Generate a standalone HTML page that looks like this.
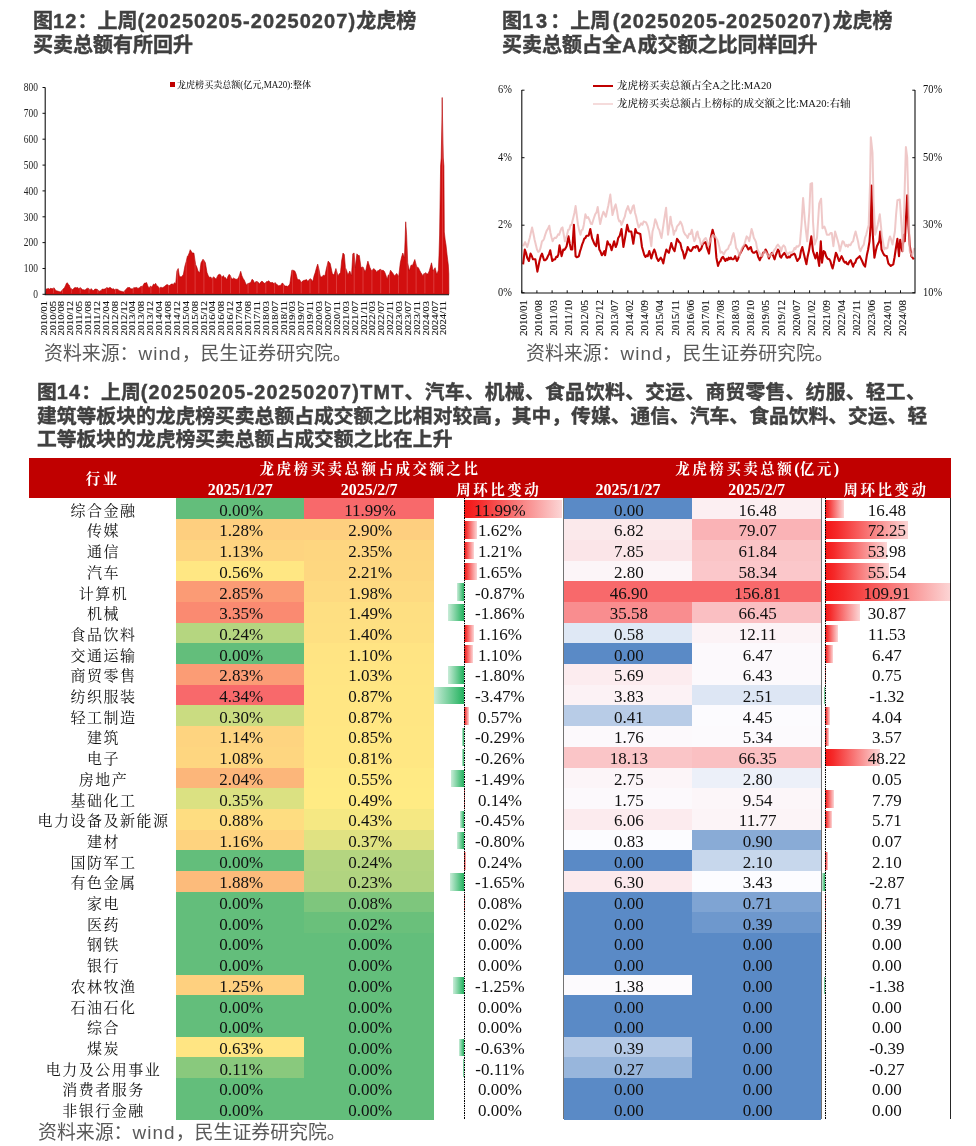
<!DOCTYPE html>
<html lang="zh"><head><meta charset="utf-8"><title>龙虎榜</title>
<style>
html,body{margin:0;padding:0;background:#fff;}
body{width:976px;height:1146px;position:relative;overflow:hidden;font-family:"Liberation Sans","Noto Sans CJK SC",sans-serif;}
.abs{position:absolute;white-space:nowrap;}
.ttl{font-weight:bold;color:#404040;font-size:20px;line-height:24px;-webkit-text-stroke:0.4px #404040;}
.ttl b{letter-spacing:1.1px;}
.src{color:#595959;font-size:18.9px;line-height:24px;}
.src b{font-weight:normal;letter-spacing:1.1px;}
.tb{font-family:"Liberation Serif","Noto Serif CJK SC",serif;}
.cell{position:absolute;text-align:center;font-size:17px;color:#111;white-space:nowrap;}
.hd{position:absolute;text-align:center;color:#fff;font-weight:bold;font-size:16px;white-space:nowrap;}
.hd i{font-style:normal;font-size:14.5px;letter-spacing:2.5px;}
svg text{font-family:"Liberation Serif","Noto Serif CJK SC",serif;}
</style></head><body>

<div class="abs ttl" style="left:33px;top:8.8px;">图<b>12</b>：上周<b>(20250205-20250207)</b>龙虎榜<br>买卖总额有所回升</div>
<div class="abs ttl" style="left:502px;top:8.8px;">图<b style="letter-spacing:3px">13</b>：上周<b style="margin-left:2.5px;margin-right:1px">(20250205-20250207)</b>龙虎榜<br>买卖总额占全<b>A</b>成交额之比同样回升</div>
<div class="abs src" style="left:44px;top:341.5px;">资料来源：<b>wind</b>，民生证券研究院。</div>
<div class="abs src" style="left:526px;top:341.5px;">资料来源：<b>wind</b>，民生证券研究院。</div>
<div class="abs ttl" id="t14" style="left:37px;top:381.3px;font-size:19.8px;line-height:23.6px;">图<b style="letter-spacing:1.25px">14</b>：上周<b style="letter-spacing:1.25px">(20250205-20250207)TMT</b><span style="letter-spacing:0.27px">、汽车、机械、食品饮料、交运、商贸零售、纺服、轻工、</span><br>建筑等板块的龙虎榜买卖总额占成交额之比相对较高，其中，传媒、通信、汽车、食品饮料、交运、轻<br>工等板块的龙虎榜买卖总额占成交额之比在上升</div>
<div class="abs src" style="left:38px;top:1120.6px;">资料来源：<b>wind</b>，民生证券研究院。</div>
<svg class="abs" style="left:0;top:0" width="976" height="345" viewBox="0 0 976 345">
<defs><clipPath id="ac"><path d="M45.7 294.3 L45.7 294.3 L46.2 289.0 L47.4 288.7 L48.6 288.5 L49.8 289.3 L50.9 288.0 L52.0 289.0 L53.1 288.2 L54.2 287.9 L55.3 290.0 L56.4 290.7 L60.5 292.0 L64.6 287.4 L65.5 285.5 L66.5 283.2 L67.4 282.8 L68.4 284.6 L69.3 285.2 L70.3 288.2 L71.5 288.8 L72.8 289.8 L74.0 288.1 L75.2 287.5 L76.5 287.8 L77.7 287.4 L78.9 288.8 L80.2 287.6 L81.4 288.5 L82.6 289.8 L83.8 289.7 L85.0 290.2 L86.3 288.8 L87.5 288.2 L88.8 288.5 L90.0 290.5 L91.2 288.6 L92.5 290.3 L93.7 290.6 L94.9 289.0 L95.9 289.1 L97.0 289.3 L98.0 289.9 L99.0 291.5 L100.0 290.5 L101.0 291.2 L102.1 289.0 L103.1 289.3 L104.1 289.1 L105.2 288.9 L106.2 287.8 L107.2 287.7 L108.4 288.2 L109.7 287.4 L110.9 287.8 L112.1 289.3 L113.3 288.5 L114.5 289.8 L115.8 289.1 L117.0 289.3 L118.1 289.4 L119.2 290.7 L120.3 291.0 L123.6 292.0 L127.7 287.4 L128.7 287.6 L129.8 287.5 L130.8 289.1 L131.8 288.7 L132.8 288.9 L133.9 287.4 L134.9 287.9 L135.9 287.4 L136.9 287.5 L137.9 288.4 L139.0 288.0 L140.0 287.4 L141.1 286.0 L142.2 287.0 L143.3 284.9 L144.4 283.1 L145.5 283.1 L146.6 282.5 L148.2 287.0 L149.3 287.7 L150.4 286.1 L151.5 287.0 L152.5 286.0 L153.6 284.0 L154.6 284.7 L155.6 283.3 L156.7 285.4 L157.8 286.2 L158.9 287.4 L159.9 288.4 L160.9 286.9 L162.0 287.9 L163.0 287.4 L164.1 286.8 L165.1 285.9 L166.2 284.9 L167.4 284.6 L168.6 285.4 L169.9 285.5 L171.1 284.1 L172.2 284.0 L173.4 284.4 L174.5 282.7 L175.7 283.8 L176.9 271.0 L178.2 268.5 L179.3 275.9 L180.6 276.8 L181.8 276.7 L183.4 274.3 L184.9 266.1 L186.2 261.5 L187.4 256.2 L188.3 255.3 L189.3 252.7 L190.2 249.7 L192.3 253.0 L193.9 253.0 L195.6 264.4 L196.8 267.1 L198.0 271.0 L199.7 273.0 L201.0 262.8 L203.0 259.2 L204.2 260.7 L205.4 262.8 L207.0 272.6 L208.2 275.5 L209.5 277.5 L210.8 277.0 L212.0 278.9 L213.6 276.7 L214.8 277.9 L216.1 279.2 L217.2 276.7 L218.2 274.9 L219.3 274.3 L220.6 274.8 L221.8 277.5 L223.4 275.6 L224.5 277.8 L225.6 277.6 L226.7 280.0 L227.9 276.5 L229.2 274.3 L230.3 275.5 L231.4 278.3 L232.5 278.9 L233.7 277.9 L234.9 278.9 L236.2 279.3 L237.4 279.2 L238.5 277.6 L239.6 274.8 L240.7 271.3 L241.9 275.8 L243.1 278.4 L244.2 280.0 L245.3 282.5 L246.4 284.9 L247.7 283.7 L248.9 283.3 L250.0 282.9 L251.0 281.8 L252.1 279.2 L253.3 280.3 L254.6 283.3 L255.8 281.6 L257.0 281.6 L258.2 282.2 L259.5 284.1 L260.8 281.9 L262.0 281.1 L263.2 282.2 L264.4 283.3 L265.5 283.0 L266.6 281.5 L267.7 281.6 L268.8 280.7 L269.9 282.2 L271.0 282.8 L272.0 282.4 L273.1 282.8 L274.1 283.8 L275.1 282.5 L276.2 284.1 L277.3 284.7 L278.4 285.7 L279.6 285.5 L280.9 285.2 L282.1 283.1 L283.3 283.8 L284.4 285.6 L285.5 286.1 L286.6 286.1 L287.7 286.4 L288.7 285.5 L289.8 284.1 L291.8 270.2 L292.8 270.2 L293.8 270.5 L294.8 271.0 L296.0 273.7 L297.2 278.4 L298.2 279.8 L299.2 279.5 L300.3 280.6 L301.3 282.8 L302.3 281.3 L303.4 280.5 L304.4 280.3 L305.4 280.0 L306.6 279.6 L307.9 281.6 L309.5 279.2 L310.6 278.7 L311.7 279.9 L312.8 281.6 L314.0 276.1 L315.2 272.6 L316.4 268.0 L317.7 264.1 L318.9 268.8 L320.2 275.9 L321.4 276.9 L322.5 276.2 L323.7 275.0 L324.9 275.9 L326.0 270.3 L327.1 265.6 L328.2 261.1 L330.2 263.6 L332.3 273.4 L333.9 275.1 L335.9 268.5 L338.0 275.9 L339.2 273.9 L340.5 272.6 L341.6 261.1 L343.0 253.0 L344.3 254.6 L345.4 267.7 L346.6 270.4 L347.9 275.1 L349.8 271.0 L351.5 275.9 L352.8 253.8 L354.1 253.0 L355.2 267.7 L356.9 253.8 L358.1 255.5 L359.3 255.4 L361.0 267.7 L363.0 266.9 L365.1 271.8 L366.0 269.5 L367.0 264.6 L367.9 261.1 L370.0 267.7 L371.6 271.0 L373.8 268.5 L374.7 269.8 L375.7 270.2 L376.6 272.6 L377.6 270.7 L378.6 270.5 L379.7 269.5 L380.7 269.3 L381.9 270.6 L383.1 270.2 L384.4 271.4 L385.6 274.3 L387.2 279.2 L388.3 275.0 L389.4 274.4 L390.5 270.2 L391.8 271.9 L393.0 273.4 L394.6 275.9 L396.7 273.4 L398.7 276.7 L400.3 262.8 L401.6 257.0 L402.8 253.0 L404.4 257.9 L405.1 239.8 L405.7 221.8 L406.6 234.9 L407.7 262.8 L409.3 271.0 L411.0 265.2 L412.6 265.2 L414.8 259.5 L416.7 266.9 L418.4 267.7 L419.6 270.3 L420.8 272.6 L423.0 275.9 L423.9 273.6 L424.8 273.8 L425.7 272.6 L426.9 274.2 L428.2 273.4 L429.3 270.8 L430.4 266.8 L431.5 262.8 L433.1 271.0 L435.1 267.7 L436.7 274.3 L437.4 273.0 L438.4 270.0 L439.0 255.0 L439.6 235.0 L440.6 166.0 L441.2 158.0 L441.9 122.0 L442.2 97.5 L442.6 122.0 L443.3 158.0 L443.9 166.0 L444.3 232.0 L445.2 240.0 L446.0 245.0 L447.2 256.0 L448.3 265.0 L448.8 274.0 L448.9 294.3 L448.9 294.3 Z"/></clipPath></defs>
<path d="M45.7 294.3 L45.7 294.3 L46.2 289.0 L47.4 288.7 L48.6 288.5 L49.8 289.3 L50.9 288.0 L52.0 289.0 L53.1 288.2 L54.2 287.9 L55.3 290.0 L56.4 290.7 L60.5 292.0 L64.6 287.4 L65.5 285.5 L66.5 283.2 L67.4 282.8 L68.4 284.6 L69.3 285.2 L70.3 288.2 L71.5 288.8 L72.8 289.8 L74.0 288.1 L75.2 287.5 L76.5 287.8 L77.7 287.4 L78.9 288.8 L80.2 287.6 L81.4 288.5 L82.6 289.8 L83.8 289.7 L85.0 290.2 L86.3 288.8 L87.5 288.2 L88.8 288.5 L90.0 290.5 L91.2 288.6 L92.5 290.3 L93.7 290.6 L94.9 289.0 L95.9 289.1 L97.0 289.3 L98.0 289.9 L99.0 291.5 L100.0 290.5 L101.0 291.2 L102.1 289.0 L103.1 289.3 L104.1 289.1 L105.2 288.9 L106.2 287.8 L107.2 287.7 L108.4 288.2 L109.7 287.4 L110.9 287.8 L112.1 289.3 L113.3 288.5 L114.5 289.8 L115.8 289.1 L117.0 289.3 L118.1 289.4 L119.2 290.7 L120.3 291.0 L123.6 292.0 L127.7 287.4 L128.7 287.6 L129.8 287.5 L130.8 289.1 L131.8 288.7 L132.8 288.9 L133.9 287.4 L134.9 287.9 L135.9 287.4 L136.9 287.5 L137.9 288.4 L139.0 288.0 L140.0 287.4 L141.1 286.0 L142.2 287.0 L143.3 284.9 L144.4 283.1 L145.5 283.1 L146.6 282.5 L148.2 287.0 L149.3 287.7 L150.4 286.1 L151.5 287.0 L152.5 286.0 L153.6 284.0 L154.6 284.7 L155.6 283.3 L156.7 285.4 L157.8 286.2 L158.9 287.4 L159.9 288.4 L160.9 286.9 L162.0 287.9 L163.0 287.4 L164.1 286.8 L165.1 285.9 L166.2 284.9 L167.4 284.6 L168.6 285.4 L169.9 285.5 L171.1 284.1 L172.2 284.0 L173.4 284.4 L174.5 282.7 L175.7 283.8 L176.9 271.0 L178.2 268.5 L179.3 275.9 L180.6 276.8 L181.8 276.7 L183.4 274.3 L184.9 266.1 L186.2 261.5 L187.4 256.2 L188.3 255.3 L189.3 252.7 L190.2 249.7 L192.3 253.0 L193.9 253.0 L195.6 264.4 L196.8 267.1 L198.0 271.0 L199.7 273.0 L201.0 262.8 L203.0 259.2 L204.2 260.7 L205.4 262.8 L207.0 272.6 L208.2 275.5 L209.5 277.5 L210.8 277.0 L212.0 278.9 L213.6 276.7 L214.8 277.9 L216.1 279.2 L217.2 276.7 L218.2 274.9 L219.3 274.3 L220.6 274.8 L221.8 277.5 L223.4 275.6 L224.5 277.8 L225.6 277.6 L226.7 280.0 L227.9 276.5 L229.2 274.3 L230.3 275.5 L231.4 278.3 L232.5 278.9 L233.7 277.9 L234.9 278.9 L236.2 279.3 L237.4 279.2 L238.5 277.6 L239.6 274.8 L240.7 271.3 L241.9 275.8 L243.1 278.4 L244.2 280.0 L245.3 282.5 L246.4 284.9 L247.7 283.7 L248.9 283.3 L250.0 282.9 L251.0 281.8 L252.1 279.2 L253.3 280.3 L254.6 283.3 L255.8 281.6 L257.0 281.6 L258.2 282.2 L259.5 284.1 L260.8 281.9 L262.0 281.1 L263.2 282.2 L264.4 283.3 L265.5 283.0 L266.6 281.5 L267.7 281.6 L268.8 280.7 L269.9 282.2 L271.0 282.8 L272.0 282.4 L273.1 282.8 L274.1 283.8 L275.1 282.5 L276.2 284.1 L277.3 284.7 L278.4 285.7 L279.6 285.5 L280.9 285.2 L282.1 283.1 L283.3 283.8 L284.4 285.6 L285.5 286.1 L286.6 286.1 L287.7 286.4 L288.7 285.5 L289.8 284.1 L291.8 270.2 L292.8 270.2 L293.8 270.5 L294.8 271.0 L296.0 273.7 L297.2 278.4 L298.2 279.8 L299.2 279.5 L300.3 280.6 L301.3 282.8 L302.3 281.3 L303.4 280.5 L304.4 280.3 L305.4 280.0 L306.6 279.6 L307.9 281.6 L309.5 279.2 L310.6 278.7 L311.7 279.9 L312.8 281.6 L314.0 276.1 L315.2 272.6 L316.4 268.0 L317.7 264.1 L318.9 268.8 L320.2 275.9 L321.4 276.9 L322.5 276.2 L323.7 275.0 L324.9 275.9 L326.0 270.3 L327.1 265.6 L328.2 261.1 L330.2 263.6 L332.3 273.4 L333.9 275.1 L335.9 268.5 L338.0 275.9 L339.2 273.9 L340.5 272.6 L341.6 261.1 L343.0 253.0 L344.3 254.6 L345.4 267.7 L346.6 270.4 L347.9 275.1 L349.8 271.0 L351.5 275.9 L352.8 253.8 L354.1 253.0 L355.2 267.7 L356.9 253.8 L358.1 255.5 L359.3 255.4 L361.0 267.7 L363.0 266.9 L365.1 271.8 L366.0 269.5 L367.0 264.6 L367.9 261.1 L370.0 267.7 L371.6 271.0 L373.8 268.5 L374.7 269.8 L375.7 270.2 L376.6 272.6 L377.6 270.7 L378.6 270.5 L379.7 269.5 L380.7 269.3 L381.9 270.6 L383.1 270.2 L384.4 271.4 L385.6 274.3 L387.2 279.2 L388.3 275.0 L389.4 274.4 L390.5 270.2 L391.8 271.9 L393.0 273.4 L394.6 275.9 L396.7 273.4 L398.7 276.7 L400.3 262.8 L401.6 257.0 L402.8 253.0 L404.4 257.9 L405.1 239.8 L405.7 221.8 L406.6 234.9 L407.7 262.8 L409.3 271.0 L411.0 265.2 L412.6 265.2 L414.8 259.5 L416.7 266.9 L418.4 267.7 L419.6 270.3 L420.8 272.6 L423.0 275.9 L423.9 273.6 L424.8 273.8 L425.7 272.6 L426.9 274.2 L428.2 273.4 L429.3 270.8 L430.4 266.8 L431.5 262.8 L433.1 271.0 L435.1 267.7 L436.7 274.3 L437.4 273.0 L438.4 270.0 L439.0 255.0 L439.6 235.0 L440.6 166.0 L441.2 158.0 L441.9 122.0 L442.2 97.5 L442.6 122.0 L443.3 158.0 L443.9 166.0 L444.3 232.0 L445.2 240.0 L446.0 245.0 L447.2 256.0 L448.3 265.0 L448.8 274.0 L448.9 294.3 L448.9 294.3 Z" fill="#d20f0f" stroke="#b00000" stroke-width="0.6" stroke-linejoin="round"/>
<line x1="53.6" y1="293.3" x2="53.6" y2="88" stroke="#ffb0b0" stroke-width="0.6" opacity="0.45" clip-path="url(#ac)"/>
<line x1="62.5" y1="293.3" x2="62.5" y2="88" stroke="#ffb0b0" stroke-width="0.6" opacity="0.45" clip-path="url(#ac)"/>
<line x1="71.3" y1="293.3" x2="71.3" y2="88" stroke="#ffb0b0" stroke-width="0.6" opacity="0.45" clip-path="url(#ac)"/>
<line x1="80.2" y1="293.3" x2="80.2" y2="88" stroke="#ffb0b0" stroke-width="0.6" opacity="0.45" clip-path="url(#ac)"/>
<line x1="89.0" y1="293.3" x2="89.0" y2="88" stroke="#ffb0b0" stroke-width="0.6" opacity="0.45" clip-path="url(#ac)"/>
<line x1="97.8" y1="293.3" x2="97.8" y2="88" stroke="#ffb0b0" stroke-width="0.6" opacity="0.45" clip-path="url(#ac)"/>
<line x1="106.7" y1="293.3" x2="106.7" y2="88" stroke="#ffb0b0" stroke-width="0.6" opacity="0.45" clip-path="url(#ac)"/>
<line x1="115.5" y1="293.3" x2="115.5" y2="88" stroke="#ffb0b0" stroke-width="0.6" opacity="0.45" clip-path="url(#ac)"/>
<line x1="124.4" y1="293.3" x2="124.4" y2="88" stroke="#ffb0b0" stroke-width="0.6" opacity="0.45" clip-path="url(#ac)"/>
<line x1="133.2" y1="293.3" x2="133.2" y2="88" stroke="#ffb0b0" stroke-width="0.6" opacity="0.45" clip-path="url(#ac)"/>
<line x1="142.0" y1="293.3" x2="142.0" y2="88" stroke="#ffb0b0" stroke-width="0.6" opacity="0.45" clip-path="url(#ac)"/>
<line x1="150.9" y1="293.3" x2="150.9" y2="88" stroke="#ffb0b0" stroke-width="0.6" opacity="0.45" clip-path="url(#ac)"/>
<line x1="159.7" y1="293.3" x2="159.7" y2="88" stroke="#ffb0b0" stroke-width="0.6" opacity="0.45" clip-path="url(#ac)"/>
<line x1="168.6" y1="293.3" x2="168.6" y2="88" stroke="#ffb0b0" stroke-width="0.6" opacity="0.45" clip-path="url(#ac)"/>
<line x1="177.4" y1="293.3" x2="177.4" y2="88" stroke="#ffb0b0" stroke-width="0.6" opacity="0.45" clip-path="url(#ac)"/>
<line x1="186.2" y1="293.3" x2="186.2" y2="88" stroke="#ffb0b0" stroke-width="0.6" opacity="0.45" clip-path="url(#ac)"/>
<line x1="195.1" y1="293.3" x2="195.1" y2="88" stroke="#ffb0b0" stroke-width="0.6" opacity="0.45" clip-path="url(#ac)"/>
<line x1="203.9" y1="293.3" x2="203.9" y2="88" stroke="#ffb0b0" stroke-width="0.6" opacity="0.45" clip-path="url(#ac)"/>
<line x1="212.8" y1="293.3" x2="212.8" y2="88" stroke="#ffb0b0" stroke-width="0.6" opacity="0.45" clip-path="url(#ac)"/>
<line x1="221.6" y1="293.3" x2="221.6" y2="88" stroke="#ffb0b0" stroke-width="0.6" opacity="0.45" clip-path="url(#ac)"/>
<line x1="230.4" y1="293.3" x2="230.4" y2="88" stroke="#ffb0b0" stroke-width="0.6" opacity="0.45" clip-path="url(#ac)"/>
<line x1="239.3" y1="293.3" x2="239.3" y2="88" stroke="#ffb0b0" stroke-width="0.6" opacity="0.45" clip-path="url(#ac)"/>
<line x1="248.1" y1="293.3" x2="248.1" y2="88" stroke="#ffb0b0" stroke-width="0.6" opacity="0.45" clip-path="url(#ac)"/>
<line x1="257.0" y1="293.3" x2="257.0" y2="88" stroke="#ffb0b0" stroke-width="0.6" opacity="0.45" clip-path="url(#ac)"/>
<line x1="265.8" y1="293.3" x2="265.8" y2="88" stroke="#ffb0b0" stroke-width="0.6" opacity="0.45" clip-path="url(#ac)"/>
<line x1="274.6" y1="293.3" x2="274.6" y2="88" stroke="#ffb0b0" stroke-width="0.6" opacity="0.45" clip-path="url(#ac)"/>
<line x1="283.5" y1="293.3" x2="283.5" y2="88" stroke="#ffb0b0" stroke-width="0.6" opacity="0.45" clip-path="url(#ac)"/>
<line x1="292.3" y1="293.3" x2="292.3" y2="88" stroke="#ffb0b0" stroke-width="0.6" opacity="0.45" clip-path="url(#ac)"/>
<line x1="301.2" y1="293.3" x2="301.2" y2="88" stroke="#ffb0b0" stroke-width="0.6" opacity="0.45" clip-path="url(#ac)"/>
<line x1="310.0" y1="293.3" x2="310.0" y2="88" stroke="#ffb0b0" stroke-width="0.6" opacity="0.45" clip-path="url(#ac)"/>
<line x1="318.8" y1="293.3" x2="318.8" y2="88" stroke="#ffb0b0" stroke-width="0.6" opacity="0.45" clip-path="url(#ac)"/>
<line x1="327.7" y1="293.3" x2="327.7" y2="88" stroke="#ffb0b0" stroke-width="0.6" opacity="0.45" clip-path="url(#ac)"/>
<line x1="336.5" y1="293.3" x2="336.5" y2="88" stroke="#ffb0b0" stroke-width="0.6" opacity="0.45" clip-path="url(#ac)"/>
<line x1="345.4" y1="293.3" x2="345.4" y2="88" stroke="#ffb0b0" stroke-width="0.6" opacity="0.45" clip-path="url(#ac)"/>
<line x1="354.2" y1="293.3" x2="354.2" y2="88" stroke="#ffb0b0" stroke-width="0.6" opacity="0.45" clip-path="url(#ac)"/>
<line x1="363.0" y1="293.3" x2="363.0" y2="88" stroke="#ffb0b0" stroke-width="0.6" opacity="0.45" clip-path="url(#ac)"/>
<line x1="371.9" y1="293.3" x2="371.9" y2="88" stroke="#ffb0b0" stroke-width="0.6" opacity="0.45" clip-path="url(#ac)"/>
<line x1="380.7" y1="293.3" x2="380.7" y2="88" stroke="#ffb0b0" stroke-width="0.6" opacity="0.45" clip-path="url(#ac)"/>
<line x1="389.6" y1="293.3" x2="389.6" y2="88" stroke="#ffb0b0" stroke-width="0.6" opacity="0.45" clip-path="url(#ac)"/>
<line x1="398.4" y1="293.3" x2="398.4" y2="88" stroke="#ffb0b0" stroke-width="0.6" opacity="0.45" clip-path="url(#ac)"/>
<line x1="407.2" y1="293.3" x2="407.2" y2="88" stroke="#ffb0b0" stroke-width="0.6" opacity="0.45" clip-path="url(#ac)"/>
<line x1="416.1" y1="293.3" x2="416.1" y2="88" stroke="#ffb0b0" stroke-width="0.6" opacity="0.45" clip-path="url(#ac)"/>
<line x1="424.9" y1="293.3" x2="424.9" y2="88" stroke="#ffb0b0" stroke-width="0.6" opacity="0.45" clip-path="url(#ac)"/>
<line x1="433.8" y1="293.3" x2="433.8" y2="88" stroke="#ffb0b0" stroke-width="0.6" opacity="0.45" clip-path="url(#ac)"/>
<line x1="442.6" y1="293.3" x2="442.6" y2="88" stroke="#ffb0b0" stroke-width="0.6" opacity="0.45" clip-path="url(#ac)"/>
<path d="M45.2 87.5V294.8H449" fill="none" stroke="#111" stroke-width="1.1"/>
<line x1="42.5" y1="87.5" x2="45.2" y2="87.5" stroke="#111" stroke-width="1"/>
<text x="38" y="91.4" font-size="11.8" text-anchor="end" fill="#222" transform="translate(38 0) scale(0.8 1) translate(-38 0)">800</text>
<line x1="42.5" y1="113.3" x2="45.2" y2="113.3" stroke="#111" stroke-width="1"/>
<text x="38" y="117.2" font-size="11.8" text-anchor="end" fill="#222" transform="translate(38 0) scale(0.8 1) translate(-38 0)">700</text>
<line x1="42.5" y1="139.2" x2="45.2" y2="139.2" stroke="#111" stroke-width="1"/>
<text x="38" y="143.1" font-size="11.8" text-anchor="end" fill="#222" transform="translate(38 0) scale(0.8 1) translate(-38 0)">600</text>
<line x1="42.5" y1="165.1" x2="45.2" y2="165.1" stroke="#111" stroke-width="1"/>
<text x="38" y="169.0" font-size="11.8" text-anchor="end" fill="#222" transform="translate(38 0) scale(0.8 1) translate(-38 0)">500</text>
<line x1="42.5" y1="190.9" x2="45.2" y2="190.9" stroke="#111" stroke-width="1"/>
<text x="38" y="194.8" font-size="11.8" text-anchor="end" fill="#222" transform="translate(38 0) scale(0.8 1) translate(-38 0)">400</text>
<line x1="42.5" y1="216.8" x2="45.2" y2="216.8" stroke="#111" stroke-width="1"/>
<text x="38" y="220.7" font-size="11.8" text-anchor="end" fill="#222" transform="translate(38 0) scale(0.8 1) translate(-38 0)">300</text>
<line x1="42.5" y1="242.6" x2="45.2" y2="242.6" stroke="#111" stroke-width="1"/>
<text x="38" y="246.5" font-size="11.8" text-anchor="end" fill="#222" transform="translate(38 0) scale(0.8 1) translate(-38 0)">200</text>
<line x1="42.5" y1="268.5" x2="45.2" y2="268.5" stroke="#111" stroke-width="1"/>
<text x="38" y="272.4" font-size="11.8" text-anchor="end" fill="#222" transform="translate(38 0) scale(0.8 1) translate(-38 0)">100</text>
<line x1="42.5" y1="294.3" x2="45.2" y2="294.3" stroke="#111" stroke-width="1"/>
<text x="38" y="298.2" font-size="11.8" text-anchor="end" fill="#222" transform="translate(38 0) scale(0.8 1) translate(-38 0)">0</text>
<text font-size="10.5" fill="#111" text-anchor="end" stroke="#111" stroke-width="0.15" transform="translate(43.6 301) rotate(-90) scale(1 0.85)" x="0" y="3.6">2010/01</text>
<text font-size="10.5" fill="#111" text-anchor="end" stroke="#111" stroke-width="0.15" transform="translate(52.5 301) rotate(-90) scale(1 0.85)" x="0" y="3.6">2010/05</text>
<text font-size="10.5" fill="#111" text-anchor="end" stroke="#111" stroke-width="0.15" transform="translate(61.4 301) rotate(-90) scale(1 0.85)" x="0" y="3.6">2010/08</text>
<text font-size="10.5" fill="#111" text-anchor="end" stroke="#111" stroke-width="0.15" transform="translate(70.3 301) rotate(-90) scale(1 0.85)" x="0" y="3.6">2010/12</text>
<text font-size="10.5" fill="#111" text-anchor="end" stroke="#111" stroke-width="0.15" transform="translate(79.1 301) rotate(-90) scale(1 0.85)" x="0" y="3.6">2011/05</text>
<text font-size="10.5" fill="#111" text-anchor="end" stroke="#111" stroke-width="0.15" transform="translate(88.0 301) rotate(-90) scale(1 0.85)" x="0" y="3.6">2011/08</text>
<text font-size="10.5" fill="#111" text-anchor="end" stroke="#111" stroke-width="0.15" transform="translate(96.9 301) rotate(-90) scale(1 0.85)" x="0" y="3.6">2011/12</text>
<text font-size="10.5" fill="#111" text-anchor="end" stroke="#111" stroke-width="0.15" transform="translate(105.8 301) rotate(-90) scale(1 0.85)" x="0" y="3.6">2012/04</text>
<text font-size="10.5" fill="#111" text-anchor="end" stroke="#111" stroke-width="0.15" transform="translate(114.7 301) rotate(-90) scale(1 0.85)" x="0" y="3.6">2012/08</text>
<text font-size="10.5" fill="#111" text-anchor="end" stroke="#111" stroke-width="0.15" transform="translate(123.6 301) rotate(-90) scale(1 0.85)" x="0" y="3.6">2012/12</text>
<text font-size="10.5" fill="#111" text-anchor="end" stroke="#111" stroke-width="0.15" transform="translate(132.4 301) rotate(-90) scale(1 0.85)" x="0" y="3.6">2013/04</text>
<text font-size="10.5" fill="#111" text-anchor="end" stroke="#111" stroke-width="0.15" transform="translate(141.3 301) rotate(-90) scale(1 0.85)" x="0" y="3.6">2013/08</text>
<text font-size="10.5" fill="#111" text-anchor="end" stroke="#111" stroke-width="0.15" transform="translate(150.2 301) rotate(-90) scale(1 0.85)" x="0" y="3.6">2013/12</text>
<text font-size="10.5" fill="#111" text-anchor="end" stroke="#111" stroke-width="0.15" transform="translate(159.1 301) rotate(-90) scale(1 0.85)" x="0" y="3.6">2014/04</text>
<text font-size="10.5" fill="#111" text-anchor="end" stroke="#111" stroke-width="0.15" transform="translate(168.0 301) rotate(-90) scale(1 0.85)" x="0" y="3.6">2014/08</text>
<text font-size="10.5" fill="#111" text-anchor="end" stroke="#111" stroke-width="0.15" transform="translate(176.9 301) rotate(-90) scale(1 0.85)" x="0" y="3.6">2014/12</text>
<text font-size="10.5" fill="#111" text-anchor="end" stroke="#111" stroke-width="0.15" transform="translate(185.8 301) rotate(-90) scale(1 0.85)" x="0" y="3.6">2015/04</text>
<text font-size="10.5" fill="#111" text-anchor="end" stroke="#111" stroke-width="0.15" transform="translate(194.6 301) rotate(-90) scale(1 0.85)" x="0" y="3.6">2015/08</text>
<text font-size="10.5" fill="#111" text-anchor="end" stroke="#111" stroke-width="0.15" transform="translate(203.5 301) rotate(-90) scale(1 0.85)" x="0" y="3.6">2015/12</text>
<text font-size="10.5" fill="#111" text-anchor="end" stroke="#111" stroke-width="0.15" transform="translate(212.4 301) rotate(-90) scale(1 0.85)" x="0" y="3.6">2016/04</text>
<text font-size="10.5" fill="#111" text-anchor="end" stroke="#111" stroke-width="0.15" transform="translate(221.3 301) rotate(-90) scale(1 0.85)" x="0" y="3.6">2016/08</text>
<text font-size="10.5" fill="#111" text-anchor="end" stroke="#111" stroke-width="0.15" transform="translate(230.2 301) rotate(-90) scale(1 0.85)" x="0" y="3.6">2016/12</text>
<text font-size="10.5" fill="#111" text-anchor="end" stroke="#111" stroke-width="0.15" transform="translate(239.1 301) rotate(-90) scale(1 0.85)" x="0" y="3.6">2017/04</text>
<text font-size="10.5" fill="#111" text-anchor="end" stroke="#111" stroke-width="0.15" transform="translate(248.0 301) rotate(-90) scale(1 0.85)" x="0" y="3.6">2017/08</text>
<text font-size="10.5" fill="#111" text-anchor="end" stroke="#111" stroke-width="0.15" transform="translate(256.8 301) rotate(-90) scale(1 0.85)" x="0" y="3.6">2017/11</text>
<text font-size="10.5" fill="#111" text-anchor="end" stroke="#111" stroke-width="0.15" transform="translate(265.7 301) rotate(-90) scale(1 0.85)" x="0" y="3.6">2018/03</text>
<text font-size="10.5" fill="#111" text-anchor="end" stroke="#111" stroke-width="0.15" transform="translate(274.6 301) rotate(-90) scale(1 0.85)" x="0" y="3.6">2018/07</text>
<text font-size="10.5" fill="#111" text-anchor="end" stroke="#111" stroke-width="0.15" transform="translate(283.5 301) rotate(-90) scale(1 0.85)" x="0" y="3.6">2018/11</text>
<text font-size="10.5" fill="#111" text-anchor="end" stroke="#111" stroke-width="0.15" transform="translate(292.4 301) rotate(-90) scale(1 0.85)" x="0" y="3.6">2019/03</text>
<text font-size="10.5" fill="#111" text-anchor="end" stroke="#111" stroke-width="0.15" transform="translate(301.3 301) rotate(-90) scale(1 0.85)" x="0" y="3.6">2019/07</text>
<text font-size="10.5" fill="#111" text-anchor="end" stroke="#111" stroke-width="0.15" transform="translate(310.2 301) rotate(-90) scale(1 0.85)" x="0" y="3.6">2019/11</text>
<text font-size="10.5" fill="#111" text-anchor="end" stroke="#111" stroke-width="0.15" transform="translate(319.0 301) rotate(-90) scale(1 0.85)" x="0" y="3.6">2020/03</text>
<text font-size="10.5" fill="#111" text-anchor="end" stroke="#111" stroke-width="0.15" transform="translate(327.9 301) rotate(-90) scale(1 0.85)" x="0" y="3.6">2020/07</text>
<text font-size="10.5" fill="#111" text-anchor="end" stroke="#111" stroke-width="0.15" transform="translate(336.8 301) rotate(-90) scale(1 0.85)" x="0" y="3.6">2020/11</text>
<text font-size="10.5" fill="#111" text-anchor="end" stroke="#111" stroke-width="0.15" transform="translate(345.7 301) rotate(-90) scale(1 0.85)" x="0" y="3.6">2021/03</text>
<text font-size="10.5" fill="#111" text-anchor="end" stroke="#111" stroke-width="0.15" transform="translate(354.6 301) rotate(-90) scale(1 0.85)" x="0" y="3.6">2021/07</text>
<text font-size="10.5" fill="#111" text-anchor="end" stroke="#111" stroke-width="0.15" transform="translate(363.5 301) rotate(-90) scale(1 0.85)" x="0" y="3.6">2021/11</text>
<text font-size="10.5" fill="#111" text-anchor="end" stroke="#111" stroke-width="0.15" transform="translate(372.3 301) rotate(-90) scale(1 0.85)" x="0" y="3.6">2022/03</text>
<text font-size="10.5" fill="#111" text-anchor="end" stroke="#111" stroke-width="0.15" transform="translate(381.2 301) rotate(-90) scale(1 0.85)" x="0" y="3.6">2022/07</text>
<text font-size="10.5" fill="#111" text-anchor="end" stroke="#111" stroke-width="0.15" transform="translate(390.1 301) rotate(-90) scale(1 0.85)" x="0" y="3.6">2022/11</text>
<text font-size="10.5" fill="#111" text-anchor="end" stroke="#111" stroke-width="0.15" transform="translate(399.0 301) rotate(-90) scale(1 0.85)" x="0" y="3.6">2023/03</text>
<text font-size="10.5" fill="#111" text-anchor="end" stroke="#111" stroke-width="0.15" transform="translate(407.9 301) rotate(-90) scale(1 0.85)" x="0" y="3.6">2023/07</text>
<text font-size="10.5" fill="#111" text-anchor="end" stroke="#111" stroke-width="0.15" transform="translate(416.8 301) rotate(-90) scale(1 0.85)" x="0" y="3.6">2023/11</text>
<text font-size="10.5" fill="#111" text-anchor="end" stroke="#111" stroke-width="0.15" transform="translate(425.7 301) rotate(-90) scale(1 0.85)" x="0" y="3.6">2024/03</text>
<text font-size="10.5" fill="#111" text-anchor="end" stroke="#111" stroke-width="0.15" transform="translate(434.5 301) rotate(-90) scale(1 0.85)" x="0" y="3.6">2024/07</text>
<text font-size="10.5" fill="#111" text-anchor="end" stroke="#111" stroke-width="0.15" transform="translate(443.4 301) rotate(-90) scale(1 0.85)" x="0" y="3.6">2024/11</text>
<rect x="170" y="82" width="5" height="5" fill="#c00000"/>
<text x="177" y="87.6" font-size="9.5" font-weight="500" fill="#111" textLength="134" lengthAdjust="spacingAndGlyphs"><tspan>龙虎榜买卖总额</tspan>(<tspan>亿元</tspan>,MA20):<tspan>整体</tspan></text>
<path d="M523.1 264.3 L524.8 249.5 L526.0 252.8 L527.2 257.7 L528.9 261.0 L530.5 253.6 L531.8 256.0 L533.0 259.3 L535.4 259.3 L537.4 271.6 L539.5 261.0 L540.8 256.2 L542.0 253.6 L544.1 260.2 L545.5 260.2 L546.9 258.5 L548.0 255.9 L549.1 253.9 L550.2 250.3 L552.3 261.0 L553.7 259.6 L555.1 259.3 L556.2 256.8 L557.3 257.0 L558.4 254.4 L559.5 245.4 L561.6 256.1 L563.3 249.5 L564.4 250.0 L565.5 248.4 L566.6 246.2 L568.5 236.4 L569.8 243.9 L571.0 249.5 L572.3 249.5 L573.9 224.9 L575.6 256.1 L576.7 257.1 L577.8 256.9 L578.9 256.1 L580.0 251.4 L581.0 248.5 L582.1 244.6 L583.2 241.9 L584.3 238.7 L585.4 238.0 L586.5 235.7 L587.6 235.7 L588.7 235.6 L590.3 229.0 L592.0 238.0 L594.4 243.8 L596.1 246.2 L597.7 234.8 L599.3 249.5 L600.5 251.6 L601.8 255.2 L603.0 253.8 L604.3 251.1 L605.1 255.2 L607.5 241.3 L608.8 244.4 L610.0 244.6 L611.6 250.3 L612.9 245.6 L614.1 241.3 L615.7 247.0 L617.0 243.9 L618.2 238.0 L619.8 235.6 L621.5 229.0 L623.4 247.0 L625.6 234.8 L627.2 224.9 L628.9 231.5 L631.3 231.5 L633.3 243.8 L635.4 229.0 L636.6 232.6 L637.9 233.1 L640.3 233.9 L642.0 247.0 L644.4 255.2 L645.5 257.0 L646.6 255.4 L647.7 256.1 L649.3 251.1 L651.3 258.5 L652.8 253.1 L654.3 249.5 L655.5 252.7 L656.7 257.7 L658.4 261.0 L660.8 257.7 L662.0 259.6 L663.3 263.4 L664.8 255.5 L666.4 249.5 L667.6 251.5 L668.9 252.8 L671.3 243.0 L672.4 247.0 L673.5 249.5 L674.6 251.1 L677.0 238.9 L678.1 240.2 L679.2 242.1 L680.3 243.0 L681.7 249.1 L683.0 252.0 L684.4 258.5 L685.5 255.2 L686.6 252.1 L687.7 247.0 L688.8 249.3 L689.9 250.5 L691.0 251.1 L692.1 249.7 L693.2 247.3 L694.3 247.0 L695.4 247.7 L696.4 245.9 L697.5 246.2 L699.2 251.1 L700.3 249.9 L701.4 248.3 L702.5 244.6 L703.6 243.4 L704.6 242.6 L705.7 242.1 L706.8 247.4 L707.9 250.5 L709.0 253.6 L710.7 238.0 L712.6 229.8 L714.8 238.0 L716.4 257.7 L718.0 265.9 L719.2 262.4 L720.5 261.0 L721.8 257.8 L723.0 256.9 L725.4 261.0 L726.5 258.8 L727.6 260.1 L728.7 257.7 L729.8 259.2 L730.9 257.6 L732.0 259.3 L733.1 259.3 L734.1 258.7 L735.2 256.1 L736.9 261.0 L738.0 259.0 L739.1 255.6 L740.2 253.6 L741.8 250.5 L743.4 247.0 L744.5 245.6 L745.6 244.9 L746.7 246.2 L748.4 249.5 L750.8 247.0 L752.0 251.4 L753.3 252.8 L754.4 252.7 L755.5 251.8 L756.6 251.1 L758.2 257.0 L759.8 260.2 L760.9 257.5 L762.0 256.5 L763.1 252.8 L764.4 252.2 L765.6 249.5 L766.7 251.6 L767.8 254.7 L768.9 258.5 L770.0 255.9 L771.0 253.9 L772.1 252.8 L773.4 256.3 L774.6 259.3 L775.7 255.3 L776.8 252.5 L777.9 249.5 L779.0 251.1 L780.0 256.3 L781.1 257.7 L782.2 255.6 L783.3 254.3 L784.4 252.8 L785.5 254.7 L786.6 257.4 L787.7 257.7 L788.8 256.6 L789.9 257.4 L791.0 255.2 L792.1 254.7 L793.2 254.2 L794.3 253.6 L794.9 254.4 L796.1 257.8 L797.4 261.0 L799.8 257.7 L801.0 250.8 L802.3 247.0 L803.5 252.2 L804.8 257.7 L806.4 264.3 L807.6 256.7 L808.9 251.1 L811.3 236.4 L813.0 251.1 L815.4 258.5 L817.0 252.8 L819.2 265.9 L820.8 241.3 L822.0 262.6 L823.6 251.1 L824.9 252.0 L826.1 256.1 L827.7 258.7 L829.3 259.3 L830.4 261.3 L831.5 265.3 L832.6 268.4 L833.7 263.9 L834.8 258.2 L835.9 252.8 L837.0 255.0 L838.1 258.3 L839.2 261.0 L841.6 256.1 L842.7 258.4 L843.8 261.3 L844.9 262.6 L846.0 261.9 L847.1 263.9 L848.2 264.3 L849.5 261.4 L850.7 260.2 L853.1 266.7 L854.2 263.5 L855.3 262.6 L856.4 259.3 L857.5 258.3 L858.6 257.4 L859.7 256.1 L862.1 261.0 L863.6 264.7 L865.1 266.7 L867.0 254.4 L868.2 249.2 L869.5 241.3 L870.7 224.9 L871.5 185.6 L872.8 234.8 L874.4 257.7 L875.6 251.8 L876.9 246.2 L879.3 241.3 L880.2 231.5 L881.5 249.5 L882.9 252.7 L884.3 255.2 L885.5 255.7 L886.7 256.1 L888.4 263.4 L890.8 265.9 L892.0 265.1 L893.3 264.3 L894.5 257.5 L895.7 249.5 L897.4 238.9 L899.0 256.1 L900.2 239.7 L902.3 251.1 L903.9 234.8 L904.8 241.3 L906.4 210.2 L907.2 195.4 L908.4 224.9 L909.7 244.6 L911.3 256.1 L912.5 257.5 L913.8 259.3" fill="none" stroke="#c00000" stroke-width="2.1" stroke-linejoin="round"/>
<path d="M523.1 246.2 L525.1 242.1 L527.2 247.0 L528.5 242.6 L529.7 238.0 L532.1 227.4 L533.4 233.5 L534.6 239.7 L537.0 249.5 L538.2 251.9 L539.5 251.1 L540.8 246.9 L542.0 241.3 L543.1 240.5 L544.1 238.6 L545.2 234.8 L546.6 230.9 L547.9 228.9 L549.3 225.7 L550.4 232.5 L551.5 237.3 L552.6 241.3 L553.7 238.9 L554.8 237.7 L555.9 238.0 L557.0 236.7 L558.1 234.3 L559.2 234.8 L560.3 231.4 L561.4 228.3 L562.5 227.4 L564.9 241.3 L566.0 238.1 L567.1 234.7 L568.2 229.8 L569.3 229.6 L570.4 225.3 L571.5 224.9 L573.1 218.4 L574.4 213.0 L575.6 206.1 L578.0 224.9 L579.2 230.4 L580.5 234.8 L581.6 230.2 L582.7 229.6 L583.8 224.9 L585.4 214.3 L586.8 217.9 L588.1 217.1 L589.5 220.0 L590.8 223.7 L592.0 224.1 L593.1 220.5 L594.1 217.5 L595.2 214.3 L596.5 212.4 L597.7 206.9 L599.0 216.7 L600.2 224.1 L601.8 216.7 L603.4 211.8 L604.6 214.0 L605.9 216.7 L607.1 211.0 L608.4 205.2 L610.3 194.6 L612.5 215.1 L613.6 211.0 L614.6 206.9 L615.7 204.4 L617.0 210.7 L618.2 218.4 L619.3 221.4 L620.4 221.0 L621.5 224.9 L622.6 222.4 L623.7 219.2 L624.8 216.7 L625.9 211.4 L626.9 209.0 L628.0 206.1 L629.2 210.2 L630.5 213.4 L631.6 210.7 L632.7 206.4 L633.8 205.2 L635.0 212.7 L636.2 216.7 L637.5 223.1 L638.7 227.4 L641.1 223.3 L642.4 224.8 L643.6 221.5 L644.9 221.9 L646.1 222.5 L647.7 226.1 L649.3 233.1 L651.3 246.2 L652.5 231.5 L653.9 226.4 L655.2 219.2 L656.7 222.9 L658.2 228.2 L659.3 230.1 L660.4 234.5 L661.5 238.0 L663.9 221.6 L666.1 207.7 L668.0 234.8 L669.2 227.2 L670.5 216.7 L671.6 223.9 L672.7 227.9 L673.8 234.8 L674.9 230.8 L675.9 230.8 L677.0 226.6 L678.1 225.2 L679.2 224.0 L680.3 221.6 L681.4 223.4 L682.5 226.6 L683.6 231.5 L685.0 234.3 L686.3 235.6 L687.7 238.0 L689.1 233.7 L690.4 234.1 L691.8 229.8 L693.0 236.0 L694.3 241.3 L695.4 239.1 L696.4 233.3 L697.5 231.5 L698.6 237.1 L699.7 238.7 L700.8 244.6 L702.0 244.3 L703.2 241.1 L704.5 239.1 L705.7 238.0 L706.8 240.4 L707.9 243.9 L709.0 244.6 L710.4 240.5 L711.7 236.7 L713.1 234.8 L714.5 236.5 L715.8 237.1 L717.2 239.7 L718.3 242.7 L719.4 247.2 L720.5 252.8 L721.6 251.7 L722.7 252.8 L723.8 254.4 L724.9 252.1 L725.9 250.4 L727.0 249.5 L728.1 248.8 L729.2 245.5 L730.3 244.6 L731.4 240.8 L732.5 235.8 L733.6 233.1 L734.9 239.9 L736.1 247.9 L737.7 250.3 L739.3 256.1 L740.7 251.9 L742.0 247.8 L743.4 246.2 L744.5 243.8 L745.6 239.9 L746.7 236.4 L748.0 237.7 L749.2 241.3 L751.6 229.0 L752.7 232.5 L753.8 237.7 L754.9 239.7 L756.0 242.1 L757.1 248.4 L758.2 251.1 L759.3 252.5 L760.4 254.4 L761.5 256.1 L762.6 255.6 L763.7 252.4 L764.8 251.1 L766.0 252.4 L767.2 254.3 L768.5 256.6 L769.7 256.1 L770.9 253.9 L772.2 254.0 L773.4 251.9 L774.6 249.5 L775.7 248.4 L776.8 245.9 L777.9 244.6 L779.0 246.2 L780.0 247.3 L781.1 251.1 L782.4 246.9 L783.6 245.4 L785.0 246.9 L786.3 252.3 L787.7 254.4 L788.8 253.1 L789.9 252.3 L791.0 253.1 L793.3 251.1 L794.4 248.0 L795.5 249.1 L796.6 246.2 L798.2 246.7 L799.8 244.6 L801.5 224.9 L803.1 197.9 L804.8 220.0 L806.0 231.3 L807.2 241.3 L809.3 211.8 L810.5 183.9 L812.1 183.1 L813.0 221.6 L814.6 244.6 L817.0 238.0 L819.2 203.6 L821.1 198.7 L822.5 228.2 L824.4 226.6 L825.6 229.9 L826.9 234.8 L829.3 234.8 L830.5 233.0 L831.8 233.1 L833.4 246.2 L835.1 231.5 L837.5 239.7 L838.8 244.7 L840.0 251.1 L841.2 246.1 L842.5 241.3 L843.6 241.7 L844.6 244.4 L845.7 246.2 L846.8 244.8 L847.9 246.8 L849.0 244.6 L850.4 245.2 L851.7 242.6 L853.1 241.3 L854.4 235.5 L855.6 231.5 L858.0 241.3 L859.2 247.9 L860.5 251.1 L861.6 248.2 L862.7 246.3 L863.8 244.6 L865.0 237.9 L866.2 234.8 L867.5 229.4 L868.7 224.9 L870.0 185.6 L870.8 137.2 L872.5 152.8 L873.6 202.0 L875.2 234.8 L876.5 229.8 L877.7 224.9 L879.8 214.3 L881.8 234.8 L883.0 242.2 L884.3 249.5 L885.4 247.9 L886.4 248.5 L887.5 247.9 L888.8 240.4 L890.0 236.4 L891.2 239.7 L892.5 244.6 L894.9 231.5 L896.1 214.4 L897.4 200.3 L899.8 199.5 L901.5 224.9 L903.1 251.1 L904.8 185.6 L905.9 147.0 L907.2 157.7 L908.4 202.0 L909.7 251.1 L912.1 256.1 L914.3 247.9" fill="none" stroke="#eab6b6" stroke-opacity="0.75" stroke-width="2" stroke-linejoin="round"/>
<path d="M521.8 90V293H915V90" fill="none" stroke="#111" stroke-width="1.1"/>
<line x1="521.8" y1="90.2" x2="524.5" y2="90.2" stroke="#111" stroke-width="1"/>
<line x1="912.3" y1="90.2" x2="915" y2="90.2" stroke="#111" stroke-width="1"/>
<text x="512" y="93.4" font-size="11.6" text-anchor="end" fill="#111" transform="translate(512 0) scale(0.9 1) translate(-512 0)">6%</text>
<text x="923" y="93.4" font-size="11.6" fill="#111" transform="translate(923 0) scale(0.9 1) translate(-923 0)">70%</text>
<line x1="521.8" y1="157.7" x2="524.5" y2="157.7" stroke="#111" stroke-width="1"/>
<line x1="912.3" y1="157.7" x2="915" y2="157.7" stroke="#111" stroke-width="1"/>
<text x="512" y="160.9" font-size="11.6" text-anchor="end" fill="#111" transform="translate(512 0) scale(0.9 1) translate(-512 0)">4%</text>
<text x="923" y="160.9" font-size="11.6" fill="#111" transform="translate(923 0) scale(0.9 1) translate(-923 0)">50%</text>
<line x1="521.8" y1="225.2" x2="524.5" y2="225.2" stroke="#111" stroke-width="1"/>
<line x1="912.3" y1="225.2" x2="915" y2="225.2" stroke="#111" stroke-width="1"/>
<text x="512" y="228.4" font-size="11.6" text-anchor="end" fill="#111" transform="translate(512 0) scale(0.9 1) translate(-512 0)">2%</text>
<text x="923" y="228.4" font-size="11.6" fill="#111" transform="translate(923 0) scale(0.9 1) translate(-923 0)">30%</text>
<line x1="521.8" y1="292.7" x2="524.5" y2="292.7" stroke="#111" stroke-width="1"/>
<line x1="912.3" y1="292.7" x2="915" y2="292.7" stroke="#111" stroke-width="1"/>
<text x="512" y="295.9" font-size="11.6" text-anchor="end" fill="#111" transform="translate(512 0) scale(0.9 1) translate(-512 0)">0%</text>
<text x="923" y="295.9" font-size="11.6" fill="#111" transform="translate(923 0) scale(0.9 1) translate(-923 0)">10%</text>
<line x1="521.8" y1="290.3" x2="521.8" y2="293" stroke="#111" stroke-width="1"/>
<text font-size="11" fill="#111" text-anchor="end" stroke="#111" stroke-width="0.15" transform="translate(523.8 300) rotate(-90) scale(1 0.9)" x="0" y="3.6">2010/01</text>
<line x1="536.9" y1="290.3" x2="536.9" y2="293" stroke="#111" stroke-width="1"/>
<text font-size="11" fill="#111" text-anchor="end" stroke="#111" stroke-width="0.15" transform="translate(538.9 300) rotate(-90) scale(1 0.9)" x="0" y="3.6">2010/08</text>
<line x1="552.1" y1="290.3" x2="552.1" y2="293" stroke="#111" stroke-width="1"/>
<text font-size="11" fill="#111" text-anchor="end" stroke="#111" stroke-width="0.15" transform="translate(554.1 300) rotate(-90) scale(1 0.9)" x="0" y="3.6">2011/03</text>
<line x1="567.2" y1="290.3" x2="567.2" y2="293" stroke="#111" stroke-width="1"/>
<text font-size="11" fill="#111" text-anchor="end" stroke="#111" stroke-width="0.15" transform="translate(569.2 300) rotate(-90) scale(1 0.9)" x="0" y="3.6">2011/10</text>
<line x1="582.4" y1="290.3" x2="582.4" y2="293" stroke="#111" stroke-width="1"/>
<text font-size="11" fill="#111" text-anchor="end" stroke="#111" stroke-width="0.15" transform="translate(584.4 300) rotate(-90) scale(1 0.9)" x="0" y="3.6">2012/05</text>
<line x1="597.5" y1="290.3" x2="597.5" y2="293" stroke="#111" stroke-width="1"/>
<text font-size="11" fill="#111" text-anchor="end" stroke="#111" stroke-width="0.15" transform="translate(599.5 300) rotate(-90) scale(1 0.9)" x="0" y="3.6">2012/12</text>
<line x1="612.7" y1="290.3" x2="612.7" y2="293" stroke="#111" stroke-width="1"/>
<text font-size="11" fill="#111" text-anchor="end" stroke="#111" stroke-width="0.15" transform="translate(614.7 300) rotate(-90) scale(1 0.9)" x="0" y="3.6">2013/07</text>
<line x1="627.8" y1="290.3" x2="627.8" y2="293" stroke="#111" stroke-width="1"/>
<text font-size="11" fill="#111" text-anchor="end" stroke="#111" stroke-width="0.15" transform="translate(629.8 300) rotate(-90) scale(1 0.9)" x="0" y="3.6">2014/02</text>
<line x1="643.0" y1="290.3" x2="643.0" y2="293" stroke="#111" stroke-width="1"/>
<text font-size="11" fill="#111" text-anchor="end" stroke="#111" stroke-width="0.15" transform="translate(645.0 300) rotate(-90) scale(1 0.9)" x="0" y="3.6">2014/09</text>
<line x1="658.1" y1="290.3" x2="658.1" y2="293" stroke="#111" stroke-width="1"/>
<text font-size="11" fill="#111" text-anchor="end" stroke="#111" stroke-width="0.15" transform="translate(660.1 300) rotate(-90) scale(1 0.9)" x="0" y="3.6">2015/04</text>
<line x1="673.3" y1="290.3" x2="673.3" y2="293" stroke="#111" stroke-width="1"/>
<text font-size="11" fill="#111" text-anchor="end" stroke="#111" stroke-width="0.15" transform="translate(675.3 300) rotate(-90) scale(1 0.9)" x="0" y="3.6">2015/11</text>
<line x1="688.4" y1="290.3" x2="688.4" y2="293" stroke="#111" stroke-width="1"/>
<text font-size="11" fill="#111" text-anchor="end" stroke="#111" stroke-width="0.15" transform="translate(690.4 300) rotate(-90) scale(1 0.9)" x="0" y="3.6">2016/06</text>
<line x1="703.6" y1="290.3" x2="703.6" y2="293" stroke="#111" stroke-width="1"/>
<text font-size="11" fill="#111" text-anchor="end" stroke="#111" stroke-width="0.15" transform="translate(705.6 300) rotate(-90) scale(1 0.9)" x="0" y="3.6">2017/01</text>
<line x1="718.8" y1="290.3" x2="718.8" y2="293" stroke="#111" stroke-width="1"/>
<text font-size="11" fill="#111" text-anchor="end" stroke="#111" stroke-width="0.15" transform="translate(720.8 300) rotate(-90) scale(1 0.9)" x="0" y="3.6">2017/08</text>
<line x1="733.9" y1="290.3" x2="733.9" y2="293" stroke="#111" stroke-width="1"/>
<text font-size="11" fill="#111" text-anchor="end" stroke="#111" stroke-width="0.15" transform="translate(735.9 300) rotate(-90) scale(1 0.9)" x="0" y="3.6">2018/03</text>
<line x1="749.0" y1="290.3" x2="749.0" y2="293" stroke="#111" stroke-width="1"/>
<text font-size="11" fill="#111" text-anchor="end" stroke="#111" stroke-width="0.15" transform="translate(751.0 300) rotate(-90) scale(1 0.9)" x="0" y="3.6">2018/10</text>
<line x1="764.2" y1="290.3" x2="764.2" y2="293" stroke="#111" stroke-width="1"/>
<text font-size="11" fill="#111" text-anchor="end" stroke="#111" stroke-width="0.15" transform="translate(766.2 300) rotate(-90) scale(1 0.9)" x="0" y="3.6">2019/05</text>
<line x1="779.3" y1="290.3" x2="779.3" y2="293" stroke="#111" stroke-width="1"/>
<text font-size="11" fill="#111" text-anchor="end" stroke="#111" stroke-width="0.15" transform="translate(781.3 300) rotate(-90) scale(1 0.9)" x="0" y="3.6">2019/12</text>
<line x1="794.5" y1="290.3" x2="794.5" y2="293" stroke="#111" stroke-width="1"/>
<text font-size="11" fill="#111" text-anchor="end" stroke="#111" stroke-width="0.15" transform="translate(796.5 300) rotate(-90) scale(1 0.9)" x="0" y="3.6">2020/07</text>
<line x1="809.6" y1="290.3" x2="809.6" y2="293" stroke="#111" stroke-width="1"/>
<text font-size="11" fill="#111" text-anchor="end" stroke="#111" stroke-width="0.15" transform="translate(811.6 300) rotate(-90) scale(1 0.9)" x="0" y="3.6">2021/02</text>
<line x1="824.8" y1="290.3" x2="824.8" y2="293" stroke="#111" stroke-width="1"/>
<text font-size="11" fill="#111" text-anchor="end" stroke="#111" stroke-width="0.15" transform="translate(826.8 300) rotate(-90) scale(1 0.9)" x="0" y="3.6">2021/09</text>
<line x1="840.0" y1="290.3" x2="840.0" y2="293" stroke="#111" stroke-width="1"/>
<text font-size="11" fill="#111" text-anchor="end" stroke="#111" stroke-width="0.15" transform="translate(842.0 300) rotate(-90) scale(1 0.9)" x="0" y="3.6">2022/04</text>
<line x1="855.1" y1="290.3" x2="855.1" y2="293" stroke="#111" stroke-width="1"/>
<text font-size="11" fill="#111" text-anchor="end" stroke="#111" stroke-width="0.15" transform="translate(857.1 300) rotate(-90) scale(1 0.9)" x="0" y="3.6">2022/11</text>
<line x1="870.2" y1="290.3" x2="870.2" y2="293" stroke="#111" stroke-width="1"/>
<text font-size="11" fill="#111" text-anchor="end" stroke="#111" stroke-width="0.15" transform="translate(872.2 300) rotate(-90) scale(1 0.9)" x="0" y="3.6">2023/06</text>
<line x1="885.4" y1="290.3" x2="885.4" y2="293" stroke="#111" stroke-width="1"/>
<text font-size="11" fill="#111" text-anchor="end" stroke="#111" stroke-width="0.15" transform="translate(887.4 300) rotate(-90) scale(1 0.9)" x="0" y="3.6">2024/01</text>
<line x1="900.5" y1="290.3" x2="900.5" y2="293" stroke="#111" stroke-width="1"/>
<text font-size="11" fill="#111" text-anchor="end" stroke="#111" stroke-width="0.15" transform="translate(902.5 300) rotate(-90) scale(1 0.9)" x="0" y="3.6">2024/08</text>
<line x1="593" y1="86" x2="613" y2="86" stroke="#c00000" stroke-width="2"/>
<line x1="593" y1="104" x2="613" y2="104" stroke="#f3d3d3" stroke-width="1.6"/>
<text x="617" y="88.9" font-size="10" font-weight="500" fill="#111" textLength="154.5" lengthAdjust="spacingAndGlyphs"><tspan>龙虎榜买卖总额占全</tspan>A<tspan>之比</tspan>:MA20</text>
<text x="617" y="107.2" font-size="10" font-weight="500" fill="#111" textLength="233.5" lengthAdjust="spacingAndGlyphs"><tspan>龙虎榜买卖总额占上榜标的成交额之比</tspan>:MA20:<tspan>右轴</tspan></text>
</svg>
<div class="tb">
<div class="abs" style="left:29.3px;top:458.1px;width:921.4px;height:40.3px;background:#c00000;"></div>
<div class="hd" style="left:29.3px;width:146.8px;top:469.0px;line-height:20px;"><i>行业</i></div>
<div class="hd" style="left:176.1px;width:387.6px;top:459.0px;line-height:20px;"><i>龙虎榜买卖总额占成交额之比</i></div>
<div class="hd" style="left:563.7px;width:387.0px;top:459.0px;line-height:20px;"><i>龙虎榜买卖总额<span style="font-size:16px;letter-spacing:0">(</span>亿元<span style="font-size:16px;letter-spacing:0">)</span></i></div>
<div class="hd" style="left:176.1px;width:128.2px;top:479.8px;line-height:20px;">2025/1/27</div>
<div class="hd" style="left:304.3px;width:129.7px;top:479.8px;line-height:20px;">2025/2/7</div>
<div class="hd" style="left:434.0px;width:129.7px;top:479.8px;line-height:20px;"><i>周环比变动</i></div>
<div class="hd" style="left:563.7px;width:128.5px;top:479.8px;line-height:20px;">2025/1/27</div>
<div class="hd" style="left:692.2px;width:128.9px;top:479.8px;line-height:20px;">2025/2/7</div>
<div class="hd" style="left:821.1px;width:129.6px;top:479.8px;line-height:20px;"><i>周环比变动</i></div>
<div class="abs" style="left:176.1px;top:498.40px;width:128.2px;height:21.00px;background:#63be7b;"></div>
<div class="abs" style="left:304.3px;top:498.40px;width:129.7px;height:21.00px;background:#f8696b;"></div>
<div class="abs" style="left:563.7px;top:498.40px;width:128.5px;height:21.00px;background:#5a8ac6;"></div>
<div class="abs" style="left:692.2px;top:498.40px;width:128.9px;height:21.00px;background:#fceff2;"></div>
<div class="abs" style="left:464.0px;top:500.40px;width:97.7px;height:17.6px;background:linear-gradient(90deg,#f41414,#f52a2a 15%,#fcd6d6);"></div>
<div class="abs" style="left:825.3px;top:500.40px;width:18.8px;height:17.6px;background:linear-gradient(90deg,#f41414,#f52a2a 15%,#fcd6d6);"></div>
<div class="cell" style="left:29.3px;width:146.8px;top:500.70px;line-height:20.7px;font-size:15px;letter-spacing:1.5px;text-indent:1.5px;">综合金融</div>
<div class="cell" style="left:177.1px;width:128.2px;top:500.70px;line-height:20.7px;">0.00%</div>
<div class="cell" style="left:305.3px;width:129.7px;top:500.70px;line-height:20.7px;">11.99%</div>
<div class="cell" style="left:435.0px;width:129.7px;top:500.70px;line-height:20.7px;">11.99%</div>
<div class="cell" style="left:564.7px;width:128.5px;top:500.70px;line-height:20.7px;">0.00</div>
<div class="cell" style="left:693.2px;width:128.9px;top:500.70px;line-height:20.7px;">16.48</div>
<div class="cell" style="left:822.1px;width:129.6px;top:500.70px;line-height:20.7px;">16.48</div>
<div class="abs" style="left:176.1px;top:519.10px;width:128.2px;height:21.00px;background:#fecf7f;"></div>
<div class="abs" style="left:304.3px;top:519.10px;width:129.7px;height:21.00px;background:#fecf7f;"></div>
<div class="abs" style="left:563.7px;top:519.10px;width:128.5px;height:21.00px;background:#fbe9eb;"></div>
<div class="abs" style="left:692.2px;top:519.10px;width:128.9px;height:21.00px;background:#fab3b6;"></div>
<div class="abs" style="left:464.0px;top:521.10px;width:13.2px;height:17.6px;background:linear-gradient(90deg,#f41414,#f52a2a 15%,#fcd6d6);"></div>
<div class="abs" style="left:825.3px;top:521.10px;width:82.4px;height:17.6px;background:linear-gradient(90deg,#f41414,#f52a2a 15%,#fcd6d6);"></div>
<div class="cell" style="left:29.3px;width:146.8px;top:521.40px;line-height:20.7px;font-size:15px;letter-spacing:1.5px;text-indent:1.5px;">传媒</div>
<div class="cell" style="left:177.1px;width:128.2px;top:521.40px;line-height:20.7px;">1.28%</div>
<div class="cell" style="left:305.3px;width:129.7px;top:521.40px;line-height:20.7px;">2.90%</div>
<div class="cell" style="left:435.0px;width:129.7px;top:521.40px;line-height:20.7px;">1.62%</div>
<div class="cell" style="left:564.7px;width:128.5px;top:521.40px;line-height:20.7px;">6.82</div>
<div class="cell" style="left:693.2px;width:128.9px;top:521.40px;line-height:20.7px;">79.07</div>
<div class="cell" style="left:822.1px;width:129.6px;top:521.40px;line-height:20.7px;">72.25</div>
<div class="abs" style="left:176.1px;top:539.80px;width:128.2px;height:21.00px;background:#fed480;"></div>
<div class="abs" style="left:304.3px;top:539.80px;width:129.7px;height:21.00px;background:#fed680;"></div>
<div class="abs" style="left:563.7px;top:539.80px;width:128.5px;height:21.00px;background:#fbe5e8;"></div>
<div class="abs" style="left:692.2px;top:539.80px;width:128.9px;height:21.00px;background:#fac4c6;"></div>
<div class="abs" style="left:464.0px;top:541.80px;width:9.9px;height:17.6px;background:linear-gradient(90deg,#f41414,#f52a2a 15%,#fcd6d6);"></div>
<div class="abs" style="left:825.3px;top:541.80px;width:61.5px;height:17.6px;background:linear-gradient(90deg,#f41414,#f52a2a 15%,#fcd6d6);"></div>
<div class="cell" style="left:29.3px;width:146.8px;top:542.10px;line-height:20.7px;font-size:15px;letter-spacing:1.5px;text-indent:1.5px;">通信</div>
<div class="cell" style="left:177.1px;width:128.2px;top:542.10px;line-height:20.7px;">1.13%</div>
<div class="cell" style="left:305.3px;width:129.7px;top:542.10px;line-height:20.7px;">2.35%</div>
<div class="cell" style="left:435.0px;width:129.7px;top:542.10px;line-height:20.7px;">1.21%</div>
<div class="cell" style="left:564.7px;width:128.5px;top:542.10px;line-height:20.7px;">7.85</div>
<div class="cell" style="left:693.2px;width:128.9px;top:542.10px;line-height:20.7px;">61.84</div>
<div class="cell" style="left:822.1px;width:129.6px;top:542.10px;line-height:20.7px;">53.98</div>
<div class="abs" style="left:176.1px;top:560.50px;width:128.2px;height:21.00px;background:#ffe783;"></div>
<div class="abs" style="left:304.3px;top:560.50px;width:129.7px;height:21.00px;background:#fed780;"></div>
<div class="abs" style="left:563.7px;top:560.50px;width:128.5px;height:21.00px;background:#fcf5f8;"></div>
<div class="abs" style="left:692.2px;top:560.50px;width:128.9px;height:21.00px;background:#fbc7ca;"></div>
<div class="abs" style="left:464.0px;top:562.50px;width:13.4px;height:17.6px;background:linear-gradient(90deg,#f41414,#f52a2a 15%,#fcd6d6);"></div>
<div class="abs" style="left:825.3px;top:562.50px;width:63.3px;height:17.6px;background:linear-gradient(90deg,#f41414,#f52a2a 15%,#fcd6d6);"></div>
<div class="cell" style="left:29.3px;width:146.8px;top:562.80px;line-height:20.7px;font-size:15px;letter-spacing:1.5px;text-indent:1.5px;">汽车</div>
<div class="cell" style="left:177.1px;width:128.2px;top:562.80px;line-height:20.7px;">0.56%</div>
<div class="cell" style="left:305.3px;width:129.7px;top:562.80px;line-height:20.7px;">2.21%</div>
<div class="cell" style="left:435.0px;width:129.7px;top:562.80px;line-height:20.7px;">1.65%</div>
<div class="cell" style="left:564.7px;width:128.5px;top:562.80px;line-height:20.7px;">2.80</div>
<div class="cell" style="left:693.2px;width:128.9px;top:562.80px;line-height:20.7px;">58.34</div>
<div class="cell" style="left:822.1px;width:129.6px;top:562.80px;line-height:20.7px;">55.54</div>
<div class="abs" style="left:176.1px;top:581.20px;width:128.2px;height:21.00px;background:#fb9b75;"></div>
<div class="abs" style="left:304.3px;top:581.20px;width:129.7px;height:21.00px;background:#feda81;"></div>
<div class="abs" style="left:563.7px;top:581.20px;width:128.5px;height:21.00px;background:#f8696b;"></div>
<div class="abs" style="left:692.2px;top:581.20px;width:128.9px;height:21.00px;background:#f8696b;"></div>
<div class="abs" style="left:456.5px;top:583.20px;width:7.5px;height:17.6px;background:linear-gradient(90deg,#c9ecd8,#22b25e);"></div>
<div class="abs" style="left:825.3px;top:583.20px;width:125.3px;height:17.6px;background:linear-gradient(90deg,#f41414,#f52a2a 15%,#fcd6d6);"></div>
<div class="cell" style="left:29.3px;width:146.8px;top:583.50px;line-height:20.7px;font-size:15px;letter-spacing:1.5px;text-indent:1.5px;">计算机</div>
<div class="cell" style="left:177.1px;width:128.2px;top:583.50px;line-height:20.7px;">2.85%</div>
<div class="cell" style="left:305.3px;width:129.7px;top:583.50px;line-height:20.7px;">1.98%</div>
<div class="cell" style="left:435.0px;width:129.7px;top:583.50px;line-height:20.7px;">-0.87%</div>
<div class="cell" style="left:564.7px;width:128.5px;top:583.50px;line-height:20.7px;">46.90</div>
<div class="cell" style="left:693.2px;width:128.9px;top:583.50px;line-height:20.7px;">156.81</div>
<div class="cell" style="left:822.1px;width:129.6px;top:583.50px;line-height:20.7px;">109.91</div>
<div class="abs" style="left:176.1px;top:601.90px;width:128.2px;height:21.00px;background:#fa8a71;"></div>
<div class="abs" style="left:304.3px;top:601.90px;width:129.7px;height:21.00px;background:#fedf82;"></div>
<div class="abs" style="left:563.7px;top:601.90px;width:128.5px;height:21.00px;background:#f98d8f;"></div>
<div class="abs" style="left:692.2px;top:601.90px;width:128.9px;height:21.00px;background:#fabfc2;"></div>
<div class="abs" style="left:447.9px;top:603.90px;width:16.1px;height:17.6px;background:linear-gradient(90deg,#c9ecd8,#22b25e);"></div>
<div class="abs" style="left:825.3px;top:603.90px;width:35.2px;height:17.6px;background:linear-gradient(90deg,#f41414,#f52a2a 15%,#fcd6d6);"></div>
<div class="cell" style="left:29.3px;width:146.8px;top:604.20px;line-height:20.7px;font-size:15px;letter-spacing:1.5px;text-indent:1.5px;">机械</div>
<div class="cell" style="left:177.1px;width:128.2px;top:604.20px;line-height:20.7px;">3.35%</div>
<div class="cell" style="left:305.3px;width:129.7px;top:604.20px;line-height:20.7px;">1.49%</div>
<div class="cell" style="left:435.0px;width:129.7px;top:604.20px;line-height:20.7px;">-1.86%</div>
<div class="cell" style="left:564.7px;width:128.5px;top:604.20px;line-height:20.7px;">35.58</div>
<div class="cell" style="left:693.2px;width:128.9px;top:604.20px;line-height:20.7px;">66.45</div>
<div class="cell" style="left:822.1px;width:129.6px;top:604.20px;line-height:20.7px;">30.87</div>
<div class="abs" style="left:176.1px;top:622.60px;width:128.2px;height:21.00px;background:#b5d680;"></div>
<div class="abs" style="left:304.3px;top:622.60px;width:129.7px;height:21.00px;background:#fee082;"></div>
<div class="abs" style="left:563.7px;top:622.60px;width:128.5px;height:21.00px;background:#dfe8f5;"></div>
<div class="abs" style="left:692.2px;top:622.60px;width:128.9px;height:21.00px;background:#fcf3f6;"></div>
<div class="abs" style="left:464.0px;top:624.60px;width:9.5px;height:17.6px;background:linear-gradient(90deg,#f41414,#f52a2a 15%,#fcd6d6);"></div>
<div class="abs" style="left:825.3px;top:624.60px;width:13.1px;height:17.6px;background:linear-gradient(90deg,#f41414,#f52a2a 15%,#fcd6d6);"></div>
<div class="cell" style="left:29.3px;width:146.8px;top:624.90px;line-height:20.7px;font-size:15px;letter-spacing:1.5px;text-indent:1.5px;">食品饮料</div>
<div class="cell" style="left:177.1px;width:128.2px;top:624.90px;line-height:20.7px;">0.24%</div>
<div class="cell" style="left:305.3px;width:129.7px;top:624.90px;line-height:20.7px;">1.40%</div>
<div class="cell" style="left:435.0px;width:129.7px;top:624.90px;line-height:20.7px;">1.16%</div>
<div class="cell" style="left:564.7px;width:128.5px;top:624.90px;line-height:20.7px;">0.58</div>
<div class="cell" style="left:693.2px;width:128.9px;top:624.90px;line-height:20.7px;">12.11</div>
<div class="cell" style="left:822.1px;width:129.6px;top:624.90px;line-height:20.7px;">11.53</div>
<div class="abs" style="left:176.1px;top:643.30px;width:128.2px;height:21.00px;background:#63be7b;"></div>
<div class="abs" style="left:304.3px;top:643.30px;width:129.7px;height:21.00px;background:#ffe483;"></div>
<div class="abs" style="left:563.7px;top:643.30px;width:128.5px;height:21.00px;background:#5a8ac6;"></div>
<div class="abs" style="left:692.2px;top:643.30px;width:128.9px;height:21.00px;background:#fcf9fc;"></div>
<div class="abs" style="left:464.0px;top:645.30px;width:9.0px;height:17.6px;background:linear-gradient(90deg,#f41414,#f52a2a 15%,#fcd6d6);"></div>
<div class="abs" style="left:825.3px;top:645.30px;width:7.4px;height:17.6px;background:linear-gradient(90deg,#f41414,#f52a2a 15%,#fcd6d6);"></div>
<div class="cell" style="left:29.3px;width:146.8px;top:645.60px;line-height:20.7px;font-size:15px;letter-spacing:1.5px;text-indent:1.5px;">交通运输</div>
<div class="cell" style="left:177.1px;width:128.2px;top:645.60px;line-height:20.7px;">0.00%</div>
<div class="cell" style="left:305.3px;width:129.7px;top:645.60px;line-height:20.7px;">1.10%</div>
<div class="cell" style="left:435.0px;width:129.7px;top:645.60px;line-height:20.7px;">1.10%</div>
<div class="cell" style="left:564.7px;width:128.5px;top:645.60px;line-height:20.7px;">0.00</div>
<div class="cell" style="left:693.2px;width:128.9px;top:645.60px;line-height:20.7px;">6.47</div>
<div class="cell" style="left:822.1px;width:129.6px;top:645.60px;line-height:20.7px;">6.47</div>
<div class="abs" style="left:176.1px;top:664.00px;width:128.2px;height:21.00px;background:#fb9c75;"></div>
<div class="abs" style="left:304.3px;top:664.00px;width:129.7px;height:21.00px;background:#ffe583;"></div>
<div class="abs" style="left:563.7px;top:664.00px;width:128.5px;height:21.00px;background:#fcecef;"></div>
<div class="abs" style="left:692.2px;top:664.00px;width:128.9px;height:21.00px;background:#fcf9fc;"></div>
<div class="abs" style="left:448.4px;top:666.00px;width:15.6px;height:17.6px;background:linear-gradient(90deg,#c9ecd8,#22b25e);"></div>
<div class="abs" style="left:825.3px;top:666.00px;width:0.9px;height:17.6px;background:linear-gradient(90deg,#f41414,#f52a2a 15%,#fcd6d6);"></div>
<div class="cell" style="left:29.3px;width:146.8px;top:666.30px;line-height:20.7px;font-size:15px;letter-spacing:1.5px;text-indent:1.5px;">商贸零售</div>
<div class="cell" style="left:177.1px;width:128.2px;top:666.30px;line-height:20.7px;">2.83%</div>
<div class="cell" style="left:305.3px;width:129.7px;top:666.30px;line-height:20.7px;">1.03%</div>
<div class="cell" style="left:435.0px;width:129.7px;top:666.30px;line-height:20.7px;">-1.80%</div>
<div class="cell" style="left:564.7px;width:128.5px;top:666.30px;line-height:20.7px;">5.69</div>
<div class="cell" style="left:693.2px;width:128.9px;top:666.30px;line-height:20.7px;">6.43</div>
<div class="cell" style="left:822.1px;width:129.6px;top:666.30px;line-height:20.7px;">0.75</div>
<div class="abs" style="left:176.1px;top:684.70px;width:128.2px;height:21.00px;background:#f8696b;"></div>
<div class="abs" style="left:304.3px;top:684.70px;width:129.7px;height:21.00px;background:#ffe683;"></div>
<div class="abs" style="left:563.7px;top:684.70px;width:128.5px;height:21.00px;background:#fcf2f5;"></div>
<div class="abs" style="left:692.2px;top:684.70px;width:128.9px;height:21.00px;background:#dde6f4;"></div>
<div class="abs" style="left:434.0px;top:686.70px;width:30.0px;height:17.6px;background:linear-gradient(90deg,#c9ecd8,#22b25e);"></div>
<div class="abs" style="left:823.8px;top:686.70px;width:1.5px;height:17.6px;background:linear-gradient(90deg,#c9ecd8,#22b25e);"></div>
<div class="cell" style="left:29.3px;width:146.8px;top:687.00px;line-height:20.7px;font-size:15px;letter-spacing:1.5px;text-indent:1.5px;">纺织服装</div>
<div class="cell" style="left:177.1px;width:128.2px;top:687.00px;line-height:20.7px;">4.34%</div>
<div class="cell" style="left:305.3px;width:129.7px;top:687.00px;line-height:20.7px;">0.87%</div>
<div class="cell" style="left:435.0px;width:129.7px;top:687.00px;line-height:20.7px;">-3.47%</div>
<div class="cell" style="left:564.7px;width:128.5px;top:687.00px;line-height:20.7px;">3.83</div>
<div class="cell" style="left:693.2px;width:128.9px;top:687.00px;line-height:20.7px;">2.51</div>
<div class="cell" style="left:822.1px;width:129.6px;top:687.00px;line-height:20.7px;">-1.32</div>
<div class="abs" style="left:176.1px;top:705.40px;width:128.2px;height:21.00px;background:#cadc81;"></div>
<div class="abs" style="left:304.3px;top:705.40px;width:129.7px;height:21.00px;background:#ffe683;"></div>
<div class="abs" style="left:563.7px;top:705.40px;width:128.5px;height:21.00px;background:#b8cce7;"></div>
<div class="abs" style="left:692.2px;top:705.40px;width:128.9px;height:21.00px;background:#fcfbfe;"></div>
<div class="abs" style="left:464.0px;top:707.40px;width:4.6px;height:17.6px;background:linear-gradient(90deg,#f41414,#f52a2a 15%,#fcd6d6);"></div>
<div class="abs" style="left:825.3px;top:707.40px;width:4.6px;height:17.6px;background:linear-gradient(90deg,#f41414,#f52a2a 15%,#fcd6d6);"></div>
<div class="cell" style="left:29.3px;width:146.8px;top:707.70px;line-height:20.7px;font-size:15px;letter-spacing:1.5px;text-indent:1.5px;">轻工制造</div>
<div class="cell" style="left:177.1px;width:128.2px;top:707.70px;line-height:20.7px;">0.30%</div>
<div class="cell" style="left:305.3px;width:129.7px;top:707.70px;line-height:20.7px;">0.87%</div>
<div class="cell" style="left:435.0px;width:129.7px;top:707.70px;line-height:20.7px;">0.57%</div>
<div class="cell" style="left:564.7px;width:128.5px;top:707.70px;line-height:20.7px;">0.41</div>
<div class="cell" style="left:693.2px;width:128.9px;top:707.70px;line-height:20.7px;">4.45</div>
<div class="cell" style="left:822.1px;width:129.6px;top:707.70px;line-height:20.7px;">4.04</div>
<div class="abs" style="left:176.1px;top:726.10px;width:128.2px;height:21.00px;background:#fed480;"></div>
<div class="abs" style="left:304.3px;top:726.10px;width:129.7px;height:21.00px;background:#ffe783;"></div>
<div class="abs" style="left:563.7px;top:726.10px;width:128.5px;height:21.00px;background:#fcf9fc;"></div>
<div class="abs" style="left:692.2px;top:726.10px;width:128.9px;height:21.00px;background:#fcfafd;"></div>
<div class="abs" style="left:461.5px;top:728.10px;width:2.5px;height:17.6px;background:linear-gradient(90deg,#c9ecd8,#22b25e);"></div>
<div class="abs" style="left:825.3px;top:728.10px;width:4.1px;height:17.6px;background:linear-gradient(90deg,#f41414,#f52a2a 15%,#fcd6d6);"></div>
<div class="cell" style="left:29.3px;width:146.8px;top:728.40px;line-height:20.7px;font-size:15px;letter-spacing:1.5px;text-indent:1.5px;">建筑</div>
<div class="cell" style="left:177.1px;width:128.2px;top:728.40px;line-height:20.7px;">1.14%</div>
<div class="cell" style="left:305.3px;width:129.7px;top:728.40px;line-height:20.7px;">0.85%</div>
<div class="cell" style="left:435.0px;width:129.7px;top:728.40px;line-height:20.7px;">-0.29%</div>
<div class="cell" style="left:564.7px;width:128.5px;top:728.40px;line-height:20.7px;">1.76</div>
<div class="cell" style="left:693.2px;width:128.9px;top:728.40px;line-height:20.7px;">5.34</div>
<div class="cell" style="left:822.1px;width:129.6px;top:728.40px;line-height:20.7px;">3.57</div>
<div class="abs" style="left:176.1px;top:746.80px;width:128.2px;height:21.00px;background:#fed680;"></div>
<div class="abs" style="left:304.3px;top:746.80px;width:129.7px;height:21.00px;background:#ffe783;"></div>
<div class="abs" style="left:563.7px;top:746.80px;width:128.5px;height:21.00px;background:#fac5c7;"></div>
<div class="abs" style="left:692.2px;top:746.80px;width:128.9px;height:21.00px;background:#fac0c2;"></div>
<div class="abs" style="left:461.8px;top:748.80px;width:2.2px;height:17.6px;background:linear-gradient(90deg,#c9ecd8,#22b25e);"></div>
<div class="abs" style="left:825.3px;top:748.80px;width:55.0px;height:17.6px;background:linear-gradient(90deg,#f41414,#f52a2a 15%,#fcd6d6);"></div>
<div class="cell" style="left:29.3px;width:146.8px;top:749.10px;line-height:20.7px;font-size:15px;letter-spacing:1.5px;text-indent:1.5px;">电子</div>
<div class="cell" style="left:177.1px;width:128.2px;top:749.10px;line-height:20.7px;">1.08%</div>
<div class="cell" style="left:305.3px;width:129.7px;top:749.10px;line-height:20.7px;">0.81%</div>
<div class="cell" style="left:435.0px;width:129.7px;top:749.10px;line-height:20.7px;">-0.26%</div>
<div class="cell" style="left:564.7px;width:128.5px;top:749.10px;line-height:20.7px;">18.13</div>
<div class="cell" style="left:693.2px;width:128.9px;top:749.10px;line-height:20.7px;">66.35</div>
<div class="cell" style="left:822.1px;width:129.6px;top:749.10px;line-height:20.7px;">48.22</div>
<div class="abs" style="left:176.1px;top:767.50px;width:128.2px;height:21.00px;background:#fcb67a;"></div>
<div class="abs" style="left:304.3px;top:767.50px;width:129.7px;height:21.00px;background:#ffea84;"></div>
<div class="abs" style="left:563.7px;top:767.50px;width:128.5px;height:21.00px;background:#fcf5f8;"></div>
<div class="abs" style="left:692.2px;top:767.50px;width:128.9px;height:21.00px;background:#ecf0f9;"></div>
<div class="abs" style="left:451.1px;top:769.50px;width:12.9px;height:17.6px;background:linear-gradient(90deg,#c9ecd8,#22b25e);"></div>
<div class="abs" style="left:825.3px;top:769.50px;width:0.1px;height:17.6px;background:linear-gradient(90deg,#f41414,#f52a2a 15%,#fcd6d6);"></div>
<div class="cell" style="left:29.3px;width:146.8px;top:769.80px;line-height:20.7px;font-size:15px;letter-spacing:1.5px;text-indent:1.5px;">房地产</div>
<div class="cell" style="left:177.1px;width:128.2px;top:769.80px;line-height:20.7px;">2.04%</div>
<div class="cell" style="left:305.3px;width:129.7px;top:769.80px;line-height:20.7px;">0.55%</div>
<div class="cell" style="left:435.0px;width:129.7px;top:769.80px;line-height:20.7px;">-1.49%</div>
<div class="cell" style="left:564.7px;width:128.5px;top:769.80px;line-height:20.7px;">2.75</div>
<div class="cell" style="left:693.2px;width:128.9px;top:769.80px;line-height:20.7px;">2.80</div>
<div class="cell" style="left:822.1px;width:129.6px;top:769.80px;line-height:20.7px;">0.05</div>
<div class="abs" style="left:176.1px;top:788.20px;width:128.2px;height:21.00px;background:#dbe182;"></div>
<div class="abs" style="left:304.3px;top:788.20px;width:129.7px;height:21.00px;background:#ffeb84;"></div>
<div class="abs" style="left:563.7px;top:788.20px;width:128.5px;height:21.00px;background:#fcf9fc;"></div>
<div class="abs" style="left:692.2px;top:788.20px;width:128.9px;height:21.00px;background:#fcf6f9;"></div>
<div class="abs" style="left:464.0px;top:790.20px;width:1.1px;height:17.6px;background:linear-gradient(90deg,#f41414,#f52a2a 15%,#fcd6d6);"></div>
<div class="abs" style="left:825.3px;top:790.20px;width:8.9px;height:17.6px;background:linear-gradient(90deg,#f41414,#f52a2a 15%,#fcd6d6);"></div>
<div class="cell" style="left:29.3px;width:146.8px;top:790.50px;line-height:20.7px;font-size:15px;letter-spacing:1.5px;text-indent:1.5px;">基础化工</div>
<div class="cell" style="left:177.1px;width:128.2px;top:790.50px;line-height:20.7px;">0.35%</div>
<div class="cell" style="left:305.3px;width:129.7px;top:790.50px;line-height:20.7px;">0.49%</div>
<div class="cell" style="left:435.0px;width:129.7px;top:790.50px;line-height:20.7px;">0.14%</div>
<div class="cell" style="left:564.7px;width:128.5px;top:790.50px;line-height:20.7px;">1.75</div>
<div class="cell" style="left:693.2px;width:128.9px;top:790.50px;line-height:20.7px;">9.54</div>
<div class="cell" style="left:822.1px;width:129.6px;top:790.50px;line-height:20.7px;">7.79</div>
<div class="abs" style="left:176.1px;top:808.90px;width:128.2px;height:21.00px;background:#fedd81;"></div>
<div class="abs" style="left:304.3px;top:808.90px;width:129.7px;height:21.00px;background:#f5e883;"></div>
<div class="abs" style="left:563.7px;top:808.90px;width:128.5px;height:21.00px;background:#fcebee;"></div>
<div class="abs" style="left:692.2px;top:808.90px;width:128.9px;height:21.00px;background:#fcf4f7;"></div>
<div class="abs" style="left:460.1px;top:810.90px;width:3.9px;height:17.6px;background:linear-gradient(90deg,#c9ecd8,#22b25e);"></div>
<div class="abs" style="left:825.3px;top:810.90px;width:6.5px;height:17.6px;background:linear-gradient(90deg,#f41414,#f52a2a 15%,#fcd6d6);"></div>
<div class="cell" style="left:29.3px;width:146.8px;top:811.20px;line-height:20.7px;font-size:15px;letter-spacing:1.5px;text-indent:1.5px;">电力设备及新能源</div>
<div class="cell" style="left:177.1px;width:128.2px;top:811.20px;line-height:20.7px;">0.88%</div>
<div class="cell" style="left:305.3px;width:129.7px;top:811.20px;line-height:20.7px;">0.43%</div>
<div class="cell" style="left:435.0px;width:129.7px;top:811.20px;line-height:20.7px;">-0.45%</div>
<div class="cell" style="left:564.7px;width:128.5px;top:811.20px;line-height:20.7px;">6.06</div>
<div class="cell" style="left:693.2px;width:128.9px;top:811.20px;line-height:20.7px;">11.77</div>
<div class="cell" style="left:822.1px;width:129.6px;top:811.20px;line-height:20.7px;">5.71</div>
<div class="abs" style="left:176.1px;top:829.60px;width:128.2px;height:21.00px;background:#fed37f;"></div>
<div class="abs" style="left:304.3px;top:829.60px;width:129.7px;height:21.00px;background:#e0e282;"></div>
<div class="abs" style="left:563.7px;top:829.60px;width:128.5px;height:21.00px;background:#fcfcff;"></div>
<div class="abs" style="left:692.2px;top:829.60px;width:128.9px;height:21.00px;background:#89abd6;"></div>
<div class="abs" style="left:457.1px;top:831.60px;width:6.9px;height:17.6px;background:linear-gradient(90deg,#c9ecd8,#22b25e);"></div>
<div class="abs" style="left:825.3px;top:831.60px;width:0.1px;height:17.6px;background:linear-gradient(90deg,#f41414,#f52a2a 15%,#fcd6d6);"></div>
<div class="cell" style="left:29.3px;width:146.8px;top:831.90px;line-height:20.7px;font-size:15px;letter-spacing:1.5px;text-indent:1.5px;">建材</div>
<div class="cell" style="left:177.1px;width:128.2px;top:831.90px;line-height:20.7px;">1.16%</div>
<div class="cell" style="left:305.3px;width:129.7px;top:831.90px;line-height:20.7px;">0.37%</div>
<div class="cell" style="left:435.0px;width:129.7px;top:831.90px;line-height:20.7px;">-0.80%</div>
<div class="cell" style="left:564.7px;width:128.5px;top:831.90px;line-height:20.7px;">0.83</div>
<div class="cell" style="left:693.2px;width:128.9px;top:831.90px;line-height:20.7px;">0.90</div>
<div class="cell" style="left:822.1px;width:129.6px;top:831.90px;line-height:20.7px;">0.07</div>
<div class="abs" style="left:176.1px;top:850.30px;width:128.2px;height:21.00px;background:#63be7b;"></div>
<div class="abs" style="left:304.3px;top:850.30px;width:129.7px;height:21.00px;background:#b4d580;"></div>
<div class="abs" style="left:563.7px;top:850.30px;width:128.5px;height:21.00px;background:#5a8ac6;"></div>
<div class="abs" style="left:692.2px;top:850.30px;width:128.9px;height:21.00px;background:#c7d7ec;"></div>
<div class="abs" style="left:464.0px;top:852.30px;width:2.0px;height:17.6px;background:linear-gradient(90deg,#f41414,#f52a2a 15%,#fcd6d6);"></div>
<div class="abs" style="left:825.3px;top:852.30px;width:2.4px;height:17.6px;background:linear-gradient(90deg,#f41414,#f52a2a 15%,#fcd6d6);"></div>
<div class="cell" style="left:29.3px;width:146.8px;top:852.60px;line-height:20.7px;font-size:15px;letter-spacing:1.5px;text-indent:1.5px;">国防军工</div>
<div class="cell" style="left:177.1px;width:128.2px;top:852.60px;line-height:20.7px;">0.00%</div>
<div class="cell" style="left:305.3px;width:129.7px;top:852.60px;line-height:20.7px;">0.24%</div>
<div class="cell" style="left:435.0px;width:129.7px;top:852.60px;line-height:20.7px;">0.24%</div>
<div class="cell" style="left:564.7px;width:128.5px;top:852.60px;line-height:20.7px;">0.00</div>
<div class="cell" style="left:693.2px;width:128.9px;top:852.60px;line-height:20.7px;">2.10</div>
<div class="cell" style="left:822.1px;width:129.6px;top:852.60px;line-height:20.7px;">2.10</div>
<div class="abs" style="left:176.1px;top:871.00px;width:128.2px;height:21.00px;background:#fcbb7b;"></div>
<div class="abs" style="left:304.3px;top:871.00px;width:129.7px;height:21.00px;background:#b1d480;"></div>
<div class="abs" style="left:563.7px;top:871.00px;width:128.5px;height:21.00px;background:#fceaed;"></div>
<div class="abs" style="left:692.2px;top:871.00px;width:128.9px;height:21.00px;background:#fcfcff;"></div>
<div class="abs" style="left:449.7px;top:873.00px;width:14.3px;height:17.6px;background:linear-gradient(90deg,#c9ecd8,#22b25e);"></div>
<div class="abs" style="left:822.0px;top:873.00px;width:3.3px;height:17.6px;background:linear-gradient(90deg,#c9ecd8,#22b25e);"></div>
<div class="cell" style="left:29.3px;width:146.8px;top:873.30px;line-height:20.7px;font-size:15px;letter-spacing:1.5px;text-indent:1.5px;">有色金属</div>
<div class="cell" style="left:177.1px;width:128.2px;top:873.30px;line-height:20.7px;">1.88%</div>
<div class="cell" style="left:305.3px;width:129.7px;top:873.30px;line-height:20.7px;">0.23%</div>
<div class="cell" style="left:435.0px;width:129.7px;top:873.30px;line-height:20.7px;">-1.65%</div>
<div class="cell" style="left:564.7px;width:128.5px;top:873.30px;line-height:20.7px;">6.30</div>
<div class="cell" style="left:693.2px;width:128.9px;top:873.30px;line-height:20.7px;">3.43</div>
<div class="cell" style="left:822.1px;width:129.6px;top:873.30px;line-height:20.7px;">-2.87</div>
<div class="abs" style="left:176.1px;top:891.70px;width:128.2px;height:21.00px;background:#63be7b;"></div>
<div class="abs" style="left:304.3px;top:891.70px;width:129.7px;height:21.00px;background:#7ec67d;"></div>
<div class="abs" style="left:563.7px;top:891.70px;width:128.5px;height:21.00px;background:#5a8ac6;"></div>
<div class="abs" style="left:692.2px;top:891.70px;width:128.9px;height:21.00px;background:#7fa4d3;"></div>
<div class="abs" style="left:464.0px;top:893.70px;width:0.7px;height:17.6px;background:linear-gradient(90deg,#f41414,#f52a2a 15%,#fcd6d6);"></div>
<div class="abs" style="left:825.3px;top:893.70px;width:0.8px;height:17.6px;background:linear-gradient(90deg,#f41414,#f52a2a 15%,#fcd6d6);"></div>
<div class="cell" style="left:29.3px;width:146.8px;top:894.00px;line-height:20.7px;font-size:15px;letter-spacing:1.5px;text-indent:1.5px;">家电</div>
<div class="cell" style="left:177.1px;width:128.2px;top:894.00px;line-height:20.7px;">0.00%</div>
<div class="cell" style="left:305.3px;width:129.7px;top:894.00px;line-height:20.7px;">0.08%</div>
<div class="cell" style="left:435.0px;width:129.7px;top:894.00px;line-height:20.7px;">0.08%</div>
<div class="cell" style="left:564.7px;width:128.5px;top:894.00px;line-height:20.7px;">0.00</div>
<div class="cell" style="left:693.2px;width:128.9px;top:894.00px;line-height:20.7px;">0.71</div>
<div class="cell" style="left:822.1px;width:129.6px;top:894.00px;line-height:20.7px;">0.71</div>
<div class="abs" style="left:176.1px;top:912.40px;width:128.2px;height:21.00px;background:#63be7b;"></div>
<div class="abs" style="left:304.3px;top:912.40px;width:129.7px;height:21.00px;background:#6ac07b;"></div>
<div class="abs" style="left:563.7px;top:912.40px;width:128.5px;height:21.00px;background:#5a8ac6;"></div>
<div class="abs" style="left:692.2px;top:912.40px;width:128.9px;height:21.00px;background:#6e98cd;"></div>
<div class="abs" style="left:464.0px;top:914.40px;width:0.2px;height:17.6px;background:linear-gradient(90deg,#f41414,#f52a2a 15%,#fcd6d6);"></div>
<div class="abs" style="left:825.3px;top:914.40px;width:0.4px;height:17.6px;background:linear-gradient(90deg,#f41414,#f52a2a 15%,#fcd6d6);"></div>
<div class="cell" style="left:29.3px;width:146.8px;top:914.70px;line-height:20.7px;font-size:15px;letter-spacing:1.5px;text-indent:1.5px;">医药</div>
<div class="cell" style="left:177.1px;width:128.2px;top:914.70px;line-height:20.7px;">0.00%</div>
<div class="cell" style="left:305.3px;width:129.7px;top:914.70px;line-height:20.7px;">0.02%</div>
<div class="cell" style="left:435.0px;width:129.7px;top:914.70px;line-height:20.7px;">0.02%</div>
<div class="cell" style="left:564.7px;width:128.5px;top:914.70px;line-height:20.7px;">0.00</div>
<div class="cell" style="left:693.2px;width:128.9px;top:914.70px;line-height:20.7px;">0.39</div>
<div class="cell" style="left:822.1px;width:129.6px;top:914.70px;line-height:20.7px;">0.39</div>
<div class="abs" style="left:176.1px;top:933.10px;width:128.2px;height:21.00px;background:#63be7b;"></div>
<div class="abs" style="left:304.3px;top:933.10px;width:129.7px;height:21.00px;background:#63be7b;"></div>
<div class="abs" style="left:563.7px;top:933.10px;width:128.5px;height:21.00px;background:#5a8ac6;"></div>
<div class="abs" style="left:692.2px;top:933.10px;width:128.9px;height:21.00px;background:#5a8ac6;"></div>
<div class="cell" style="left:29.3px;width:146.8px;top:935.40px;line-height:20.7px;font-size:15px;letter-spacing:1.5px;text-indent:1.5px;">钢铁</div>
<div class="cell" style="left:177.1px;width:128.2px;top:935.40px;line-height:20.7px;">0.00%</div>
<div class="cell" style="left:305.3px;width:129.7px;top:935.40px;line-height:20.7px;">0.00%</div>
<div class="cell" style="left:435.0px;width:129.7px;top:935.40px;line-height:20.7px;">0.00%</div>
<div class="cell" style="left:564.7px;width:128.5px;top:935.40px;line-height:20.7px;">0.00</div>
<div class="cell" style="left:693.2px;width:128.9px;top:935.40px;line-height:20.7px;">0.00</div>
<div class="cell" style="left:822.1px;width:129.6px;top:935.40px;line-height:20.7px;">0.00</div>
<div class="abs" style="left:176.1px;top:953.80px;width:128.2px;height:21.00px;background:#63be7b;"></div>
<div class="abs" style="left:304.3px;top:953.80px;width:129.7px;height:21.00px;background:#63be7b;"></div>
<div class="abs" style="left:563.7px;top:953.80px;width:128.5px;height:21.00px;background:#5a8ac6;"></div>
<div class="abs" style="left:692.2px;top:953.80px;width:128.9px;height:21.00px;background:#5a8ac6;"></div>
<div class="cell" style="left:29.3px;width:146.8px;top:956.10px;line-height:20.7px;font-size:15px;letter-spacing:1.5px;text-indent:1.5px;">银行</div>
<div class="cell" style="left:177.1px;width:128.2px;top:956.10px;line-height:20.7px;">0.00%</div>
<div class="cell" style="left:305.3px;width:129.7px;top:956.10px;line-height:20.7px;">0.00%</div>
<div class="cell" style="left:435.0px;width:129.7px;top:956.10px;line-height:20.7px;">0.00%</div>
<div class="cell" style="left:564.7px;width:128.5px;top:956.10px;line-height:20.7px;">0.00</div>
<div class="cell" style="left:693.2px;width:128.9px;top:956.10px;line-height:20.7px;">0.00</div>
<div class="cell" style="left:822.1px;width:129.6px;top:956.10px;line-height:20.7px;">0.00</div>
<div class="abs" style="left:176.1px;top:974.50px;width:128.2px;height:21.00px;background:#fed07f;"></div>
<div class="abs" style="left:304.3px;top:974.50px;width:129.7px;height:21.00px;background:#63be7b;"></div>
<div class="abs" style="left:563.7px;top:974.50px;width:128.5px;height:21.00px;background:#fcfafd;"></div>
<div class="abs" style="left:692.2px;top:974.50px;width:128.9px;height:21.00px;background:#5a8ac6;"></div>
<div class="abs" style="left:453.2px;top:976.50px;width:10.8px;height:17.6px;background:linear-gradient(90deg,#c9ecd8,#22b25e);"></div>
<div class="abs" style="left:823.7px;top:976.50px;width:1.6px;height:17.6px;background:linear-gradient(90deg,#c9ecd8,#22b25e);"></div>
<div class="cell" style="left:29.3px;width:146.8px;top:976.80px;line-height:20.7px;font-size:15px;letter-spacing:1.5px;text-indent:1.5px;">农林牧渔</div>
<div class="cell" style="left:177.1px;width:128.2px;top:976.80px;line-height:20.7px;">1.25%</div>
<div class="cell" style="left:305.3px;width:129.7px;top:976.80px;line-height:20.7px;">0.00%</div>
<div class="cell" style="left:435.0px;width:129.7px;top:976.80px;line-height:20.7px;">-1.25%</div>
<div class="cell" style="left:564.7px;width:128.5px;top:976.80px;line-height:20.7px;">1.38</div>
<div class="cell" style="left:693.2px;width:128.9px;top:976.80px;line-height:20.7px;">0.00</div>
<div class="cell" style="left:822.1px;width:129.6px;top:976.80px;line-height:20.7px;">-1.38</div>
<div class="abs" style="left:176.1px;top:995.20px;width:128.2px;height:21.00px;background:#63be7b;"></div>
<div class="abs" style="left:304.3px;top:995.20px;width:129.7px;height:21.00px;background:#63be7b;"></div>
<div class="abs" style="left:563.7px;top:995.20px;width:128.5px;height:21.00px;background:#5a8ac6;"></div>
<div class="abs" style="left:692.2px;top:995.20px;width:128.9px;height:21.00px;background:#5a8ac6;"></div>
<div class="cell" style="left:29.3px;width:146.8px;top:997.50px;line-height:20.7px;font-size:15px;letter-spacing:1.5px;text-indent:1.5px;">石油石化</div>
<div class="cell" style="left:177.1px;width:128.2px;top:997.50px;line-height:20.7px;">0.00%</div>
<div class="cell" style="left:305.3px;width:129.7px;top:997.50px;line-height:20.7px;">0.00%</div>
<div class="cell" style="left:435.0px;width:129.7px;top:997.50px;line-height:20.7px;">0.00%</div>
<div class="cell" style="left:564.7px;width:128.5px;top:997.50px;line-height:20.7px;">0.00</div>
<div class="cell" style="left:693.2px;width:128.9px;top:997.50px;line-height:20.7px;">0.00</div>
<div class="cell" style="left:822.1px;width:129.6px;top:997.50px;line-height:20.7px;">0.00</div>
<div class="abs" style="left:176.1px;top:1015.90px;width:128.2px;height:21.00px;background:#63be7b;"></div>
<div class="abs" style="left:304.3px;top:1015.90px;width:129.7px;height:21.00px;background:#63be7b;"></div>
<div class="abs" style="left:563.7px;top:1015.90px;width:128.5px;height:21.00px;background:#5a8ac6;"></div>
<div class="abs" style="left:692.2px;top:1015.90px;width:128.9px;height:21.00px;background:#5a8ac6;"></div>
<div class="cell" style="left:29.3px;width:146.8px;top:1018.20px;line-height:20.7px;font-size:15px;letter-spacing:1.5px;text-indent:1.5px;">综合</div>
<div class="cell" style="left:177.1px;width:128.2px;top:1018.20px;line-height:20.7px;">0.00%</div>
<div class="cell" style="left:305.3px;width:129.7px;top:1018.20px;line-height:20.7px;">0.00%</div>
<div class="cell" style="left:435.0px;width:129.7px;top:1018.20px;line-height:20.7px;">0.00%</div>
<div class="cell" style="left:564.7px;width:128.5px;top:1018.20px;line-height:20.7px;">0.00</div>
<div class="cell" style="left:693.2px;width:128.9px;top:1018.20px;line-height:20.7px;">0.00</div>
<div class="cell" style="left:822.1px;width:129.6px;top:1018.20px;line-height:20.7px;">0.00</div>
<div class="abs" style="left:176.1px;top:1036.60px;width:128.2px;height:21.00px;background:#ffe583;"></div>
<div class="abs" style="left:304.3px;top:1036.60px;width:129.7px;height:21.00px;background:#63be7b;"></div>
<div class="abs" style="left:563.7px;top:1036.60px;width:128.5px;height:21.00px;background:#b4c9e6;"></div>
<div class="abs" style="left:692.2px;top:1036.60px;width:128.9px;height:21.00px;background:#5a8ac6;"></div>
<div class="abs" style="left:458.6px;top:1038.60px;width:5.4px;height:17.6px;background:linear-gradient(90deg,#c9ecd8,#22b25e);"></div>
<div class="abs" style="left:824.9px;top:1038.60px;width:0.4px;height:17.6px;background:linear-gradient(90deg,#c9ecd8,#22b25e);"></div>
<div class="cell" style="left:29.3px;width:146.8px;top:1038.90px;line-height:20.7px;font-size:15px;letter-spacing:1.5px;text-indent:1.5px;">煤炭</div>
<div class="cell" style="left:177.1px;width:128.2px;top:1038.90px;line-height:20.7px;">0.63%</div>
<div class="cell" style="left:305.3px;width:129.7px;top:1038.90px;line-height:20.7px;">0.00%</div>
<div class="cell" style="left:435.0px;width:129.7px;top:1038.90px;line-height:20.7px;">-0.63%</div>
<div class="cell" style="left:564.7px;width:128.5px;top:1038.90px;line-height:20.7px;">0.39</div>
<div class="cell" style="left:693.2px;width:128.9px;top:1038.90px;line-height:20.7px;">0.00</div>
<div class="cell" style="left:822.1px;width:129.6px;top:1038.90px;line-height:20.7px;">-0.39</div>
<div class="abs" style="left:176.1px;top:1057.30px;width:128.2px;height:21.00px;background:#89c97d;"></div>
<div class="abs" style="left:304.3px;top:1057.30px;width:129.7px;height:21.00px;background:#63be7b;"></div>
<div class="abs" style="left:563.7px;top:1057.30px;width:128.5px;height:21.00px;background:#98b6dc;"></div>
<div class="abs" style="left:692.2px;top:1057.30px;width:128.9px;height:21.00px;background:#5a8ac6;"></div>
<div class="abs" style="left:463.0px;top:1059.30px;width:1.0px;height:17.6px;background:linear-gradient(90deg,#c9ecd8,#22b25e);"></div>
<div class="abs" style="left:825.0px;top:1059.30px;width:0.3px;height:17.6px;background:linear-gradient(90deg,#c9ecd8,#22b25e);"></div>
<div class="cell" style="left:29.3px;width:146.8px;top:1059.60px;line-height:20.7px;font-size:15px;letter-spacing:1.5px;text-indent:1.5px;">电力及公用事业</div>
<div class="cell" style="left:177.1px;width:128.2px;top:1059.60px;line-height:20.7px;">0.11%</div>
<div class="cell" style="left:305.3px;width:129.7px;top:1059.60px;line-height:20.7px;">0.00%</div>
<div class="cell" style="left:435.0px;width:129.7px;top:1059.60px;line-height:20.7px;">-0.11%</div>
<div class="cell" style="left:564.7px;width:128.5px;top:1059.60px;line-height:20.7px;">0.27</div>
<div class="cell" style="left:693.2px;width:128.9px;top:1059.60px;line-height:20.7px;">0.00</div>
<div class="cell" style="left:822.1px;width:129.6px;top:1059.60px;line-height:20.7px;">-0.27</div>
<div class="abs" style="left:176.1px;top:1078.00px;width:128.2px;height:21.00px;background:#63be7b;"></div>
<div class="abs" style="left:304.3px;top:1078.00px;width:129.7px;height:21.00px;background:#63be7b;"></div>
<div class="abs" style="left:563.7px;top:1078.00px;width:128.5px;height:21.00px;background:#5a8ac6;"></div>
<div class="abs" style="left:692.2px;top:1078.00px;width:128.9px;height:21.00px;background:#5a8ac6;"></div>
<div class="cell" style="left:29.3px;width:146.8px;top:1080.30px;line-height:20.7px;font-size:15px;letter-spacing:1.5px;text-indent:1.5px;">消费者服务</div>
<div class="cell" style="left:177.1px;width:128.2px;top:1080.30px;line-height:20.7px;">0.00%</div>
<div class="cell" style="left:305.3px;width:129.7px;top:1080.30px;line-height:20.7px;">0.00%</div>
<div class="cell" style="left:435.0px;width:129.7px;top:1080.30px;line-height:20.7px;">0.00%</div>
<div class="cell" style="left:564.7px;width:128.5px;top:1080.30px;line-height:20.7px;">0.00</div>
<div class="cell" style="left:693.2px;width:128.9px;top:1080.30px;line-height:20.7px;">0.00</div>
<div class="cell" style="left:822.1px;width:129.6px;top:1080.30px;line-height:20.7px;">0.00</div>
<div class="abs" style="left:176.1px;top:1098.70px;width:128.2px;height:21.00px;background:#63be7b;"></div>
<div class="abs" style="left:304.3px;top:1098.70px;width:129.7px;height:21.00px;background:#63be7b;"></div>
<div class="abs" style="left:563.7px;top:1098.70px;width:128.5px;height:21.00px;background:#5a8ac6;"></div>
<div class="abs" style="left:692.2px;top:1098.70px;width:128.9px;height:21.00px;background:#5a8ac6;"></div>
<div class="cell" style="left:29.3px;width:146.8px;top:1101.00px;line-height:20.7px;font-size:15px;letter-spacing:1.5px;text-indent:1.5px;">非银行金融</div>
<div class="cell" style="left:177.1px;width:128.2px;top:1101.00px;line-height:20.7px;">0.00%</div>
<div class="cell" style="left:305.3px;width:129.7px;top:1101.00px;line-height:20.7px;">0.00%</div>
<div class="cell" style="left:435.0px;width:129.7px;top:1101.00px;line-height:20.7px;">0.00%</div>
<div class="cell" style="left:564.7px;width:128.5px;top:1101.00px;line-height:20.7px;">0.00</div>
<div class="cell" style="left:693.2px;width:128.9px;top:1101.00px;line-height:20.7px;">0.00</div>
<div class="cell" style="left:822.1px;width:129.6px;top:1101.00px;line-height:20.7px;">0.00</div>
<div class="abs" style="left:463.5px;top:498.4px;width:1px;height:621.0px;background:repeating-linear-gradient(180deg,#000 0,#000 1.4px,rgba(0,0,0,.15) 1.4px,rgba(0,0,0,.15) 2.4px);"></div>
<div class="abs" style="left:824.8px;top:498.4px;width:1px;height:621.0px;background:repeating-linear-gradient(180deg,#000 0,#000 1.4px,rgba(0,0,0,.15) 1.4px,rgba(0,0,0,.15) 2.4px);"></div>
<div class="abs" style="left:562.9px;top:498.4px;width:1px;height:621.0px;background:rgba(0,0,0,.55);"></div>
<div class="abs" style="left:821.1px;top:498.4px;width:1px;height:621.0px;background:rgba(0,0,0,.55);"></div>
<div class="abs" style="left:950.1px;top:498.4px;width:1px;height:621.0px;background:rgba(0,0,0,.85);"></div>
</div>
</body></html>
